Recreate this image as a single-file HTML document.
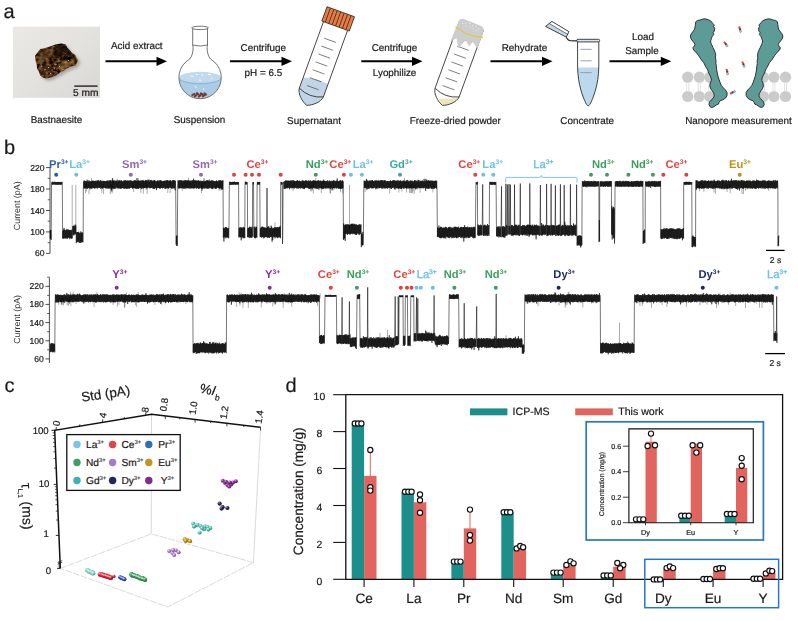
<!DOCTYPE html>
<html><head><meta charset="utf-8"><title>Figure</title>
<style>html,body{margin:0;padding:0;background:#fff}svg{display:block}text{text-rendering:geometricPrecision;font-family:"Liberation Sans",sans-serif;fill:#1d191a;stroke:#1d191a;stroke-width:.2px}</style>
</head><body>
<svg width="798" height="621" viewBox="0 0 798 621">
<defs>
<linearGradient id="gphoto" x1="0" y1="0" x2="1" y2="1"><stop offset="0" stop-color="#ebe9e6"/><stop offset=".5" stop-color="#e4e2df"/><stop offset="1" stop-color="#d9d7d4"/></linearGradient>
<linearGradient id="grock" x1="0" y1="0" x2="1" y2="1"><stop offset="0" stop-color="#6a4a24"/><stop offset=".5" stop-color="#3b2614"/><stop offset="1" stop-color="#5b4020"/></linearGradient>
<filter id="blur1" x="-20%" y="-20%" width="140%" height="140%"><feGaussianBlur stdDeviation="1.6"/></filter>
<filter id="blur05" x="-20%" y="-20%" width="140%" height="140%"><feGaussianBlur stdDeviation=".8"/></filter>
<filter id="rocktex" color-interpolation-filters="sRGB" x="-5%" y="-5%" width="110%" height="110%"><feTurbulence type="fractalNoise" baseFrequency=".28" numOctaves="3" seed="11" result="n"/><feColorMatrix in="n" type="matrix" values="1.25 0 0 0 -.36  .92 0 0 0 -.30  .52 0 0 0 -.19  0 0 0 0 1" result="c"/><feComposite in="c" in2="SourceGraphic" operator="in"/><feGaussianBlur stdDeviation=".45"/></filter>
</defs>
<rect width="798" height="621" fill="#fff"/>
<g style="will-change:opacity;isolation:isolate" opacity=".999">
<g id="pa">
<text x="3.6" y="18.2" font-size="20">a</text>
<rect x="13" y="26.6" width="87" height="71.2" fill="url(#gphoto)"/>
<path d="M42,53 L52,48.5 L62,46 L68,47 L71,52 L77.5,57.5 L80.5,62 L78,67.5 L69,71 L62,75 L53,80 L47.5,81 L42,77.5 Z" fill="#6f6c68" opacity=".5" filter="url(#blur1)"/>
<path d="M35.1,55.8 L37.5,52.5 L40.2,49 L45,48 L51.5,45.9 L56,44.2 L61.5,43.4 L65.9,44.6 L67,47.5 L69.1,49.6 L72,53 L75.4,55.3 L77.9,60.3 L75.4,65.4 L71,66.5 L66.6,68.5 L63.5,71 L60.3,72.3 L56,75.5 L51.5,77.3 L46.4,78.6 L42.8,77.5 L40.2,75.4 L38.8,71.5 L37,68.5 L36.8,65 L35.8,62.2 Z" fill="#3a2413" filter="url(#rocktex)"/>
<clipPath id="crock"><path d="M35.1,55.8 L37.5,52.5 L40.2,49 L45,48 L51.5,45.9 L56,44.2 L61.5,43.4 L65.9,44.6 L67,47.5 L69.1,49.6 L72,53 L75.4,55.3 L77.9,60.3 L75.4,65.4 L71,66.5 L66.6,68.5 L63.5,71 L60.3,72.3 L56,75.5 L51.5,77.3 L46.4,78.6 L42.8,77.5 L40.2,75.4 L38.8,71.5 L37,68.5 L36.8,65 L35.8,62.2 Z"/></clipPath>
<g clip-path="url(#crock)" filter="url(#blur05)">
<path d="M58,45 L66,44.5 L69.5,50 L75,56 L72,58 L65,55.5 L60,57 L56,60 L54,54 Z" fill="#1d1109" opacity=".8"/>
<path d="M36,57 L41,51 L50,48 L55,48 L53,55 L48,60 L42,64 L37,63 Z" fill="#6e4c24" opacity=".55"/>
<path d="M56,67 L64,63 L72,60.5 L76,62 L70,66 L61,70.5 Z" fill="#8c6b34" opacity=".7"/>
<path d="M40,66 L47,64 L52,67 L50,72 L45,76 L40,73 Z" fill="#4c3218" opacity=".7"/>
<path d="M49,52 l1.5,9 M53,51 l1.5,10 M57,50 l1.2,9 M61,49.5 l1,8" stroke="#140b06" stroke-width="1" opacity=".7"/>
</g>
<circle cx="45" cy="69.5" r=".55" fill="#e9dfca" opacity=".85"/>
<circle cx="48.5" cy="67.5" r=".55" fill="#e9dfca" opacity=".85"/>
<circle cx="52" cy="70" r=".55" fill="#e9dfca" opacity=".85"/>
<circle cx="47" cy="73" r=".55" fill="#e9dfca" opacity=".85"/>
<circle cx="56" cy="64.5" r=".55" fill="#e9dfca" opacity=".85"/>
<circle cx="62" cy="63" r=".55" fill="#e9dfca" opacity=".85"/>
<circle cx="66" cy="61.5" r=".55" fill="#e9dfca" opacity=".85"/>
<circle cx="68.5" cy="60.5" r=".55" fill="#e9dfca" opacity=".85"/>
<circle cx="43" cy="61" r=".55" fill="#e9dfca" opacity=".85"/>
<circle cx="50.5" cy="73.5" r=".55" fill="#e9dfca" opacity=".85"/>
<circle cx="59.5" cy="66.5" r=".55" fill="#e9dfca" opacity=".85"/>
<circle cx="41.5" cy="66" r=".55" fill="#e9dfca" opacity=".85"/>
<circle cx="54.5" cy="68" r=".55" fill="#e9dfca" opacity=".85"/>
<path d="M63,52.6 l3.2,1.2" stroke="#b8301f" stroke-width=".8" opacity=".9"/>
<rect x="74.3" y="85.4" width="23.3" height="1.4" fill="#222"/>
<text x="85.8" y="96.4" font-size="10" text-anchor="middle" textLength="25.4" lengthAdjust="spacingAndGlyphs">5 mm</text>
<text x="56.5" y="122.6" font-size="9.9" text-anchor="middle">Bastnaesite</text>
<path d="M105.5,61.3 H159" stroke="#000" stroke-width="2.1"/><path d="M167,61.3 l-10.5,-4.6 v9.2 z" fill="#000"/>
<path d="M230,61.3 H284" stroke="#000" stroke-width="2.1"/><path d="M292,61.3 l-10.5,-4.6 v9.2 z" fill="#000"/>
<path d="M361.3,61.3 H414.5" stroke="#000" stroke-width="2.1"/><path d="M422.5,61.3 l-10.5,-4.6 v9.2 z" fill="#000"/>
<path d="M490.5,61.3 H544.5" stroke="#000" stroke-width="2.1"/><path d="M552.5,61.3 l-10.5,-4.6 v9.2 z" fill="#000"/>
<path d="M609.5,61.3 H663.3" stroke="#000" stroke-width="2.1"/><path d="M671.3,61.3 l-10.5,-4.6 v9.2 z" fill="#000"/>
<text x="136.8" y="49.2" font-size="9.9" text-anchor="middle">Acid extract</text>
<text x="263.3" y="50.8" font-size="9.9" text-anchor="middle">Centrifuge</text>
<text x="263.4" y="76.4" font-size="9.9" text-anchor="middle">pH = 6.5</text>
<text x="394.5" y="50.8" font-size="9.9" text-anchor="middle">Centrifuge</text>
<text x="394.6" y="76.4" font-size="9.9" text-anchor="middle">Lyophilize</text>
<text x="524.5" y="50.8" font-size="9.9" text-anchor="middle">Rehydrate</text>
<text x="642.9" y="40" font-size="9.9" text-anchor="middle">Load</text>
<text x="642" y="53.8" font-size="9.9" text-anchor="middle">Sample</text>
<text x="199.5" y="122.6" font-size="9.9" text-anchor="middle">Suspension</text>
<text x="314" y="124.3" font-size="9.9" text-anchor="middle">Supernatant</text>
<text x="455.3" y="124.2" font-size="9.9" text-anchor="middle">Freeze-dried powder</text>
<text x="587.2" y="124.2" font-size="9.9" text-anchor="middle">Concentrate</text>
<text x="738.4" y="124" font-size="9.9" text-anchor="middle">Nanopore measurement</text>
<g stroke="#3a3a3a" stroke-width=".7" fill="none">
<clipPath id="cflask"><circle cx="200.1" cy="77.6" r="20.9"/></clipPath>
<g clip-path="url(#cflask)" stroke="none"><rect x="178" y="77.5" width="44" height="22" fill="#abcce6"/><ellipse cx="200.1" cy="77.7" rx="21" ry="5.9" fill="#bfd9ed"/><path d="M179.1,77.7 A21,5.9 0 0 0 221.1,77.7" fill="none" stroke="#6f9cc0" stroke-width=".6"/></g>
<path d="M190.5,76 l3,0.3" stroke="#fff" stroke-width="1"/>
<path d="M196,74.3 l2,0.2" stroke="#fff" stroke-width="1"/>
<path d="M201.5,74.6 l1.6,0.8" stroke="#fff" stroke-width="1"/>
<path d="M208,74.4 l3,0.4" stroke="#fff" stroke-width="1"/>
<path d="M199,80 l2.2,0.3" stroke="#fff" stroke-width="1"/>
<path d="M211,78.5 l1.2,-0.8" stroke="#fff" stroke-width="1"/>
<path d="M194.5,86 l2,1.6" stroke="#fff" stroke-width="1"/>
<path d="M203,88.5 l1.5,1.2" stroke="#fff" stroke-width="1"/>
<circle cx="192.5" cy="95" r="1.05" fill="#8a3a28" stroke="#5a2015" stroke-width=".25"/>
<circle cx="194.2" cy="94" r="1.05" fill="#8a3a28" stroke="#5a2015" stroke-width=".25"/>
<circle cx="196" cy="95.3" r="1.05" fill="#8a3a28" stroke="#5a2015" stroke-width=".25"/>
<circle cx="198" cy="94.2" r="1.05" fill="#8a3a28" stroke="#5a2015" stroke-width=".25"/>
<circle cx="200" cy="95.4" r="1.05" fill="#8a3a28" stroke="#5a2015" stroke-width=".25"/>
<circle cx="202" cy="94.4" r="1.05" fill="#8a3a28" stroke="#5a2015" stroke-width=".25"/>
<circle cx="204" cy="95.2" r="1.05" fill="#8a3a28" stroke="#5a2015" stroke-width=".25"/>
<circle cx="205.8" cy="94.6" r="1.05" fill="#8a3a28" stroke="#5a2015" stroke-width=".25"/>
<circle cx="195" cy="96.2" r="1.05" fill="#8a3a28" stroke="#5a2015" stroke-width=".25"/>
<circle cx="199" cy="96.5" r="1.05" fill="#8a3a28" stroke="#5a2015" stroke-width=".25"/>
<circle cx="203" cy="96.2" r="1.05" fill="#8a3a28" stroke="#5a2015" stroke-width=".25"/>
<circle cx="197" cy="93.4" r="1.05" fill="#8a3a28" stroke="#5a2015" stroke-width=".25"/>
<circle cx="201" cy="93.5" r="1.05" fill="#8a3a28" stroke="#5a2015" stroke-width=".25"/>
<circle cx="204.6" cy="93.6" r="1.05" fill="#8a3a28" stroke="#5a2015" stroke-width=".25"/>
<path d="M192.7,28.5 V45.3 L193.1,47.5 C193.1,52 192.2,56.3 189.5,59.2 A21.2,21.2 0 1 0 210.7,59.2 C208,56.3 207.1,52 207.1,47.5 L207.5,45.3 V28.5"/>
<ellipse cx="200.1" cy="27.9" rx="8.5" ry="1.7" fill="#fff"/>
<path d="M192.7,45 Q200.1,47.2 207.5,45" />
</g>
<g transform="translate(340.75,11.75) rotate(20)" stroke="#222" stroke-width=".75" fill="none" stroke-linejoin="round"><path d="M-12.8,74.6 Q-2,70.5 12.8,72.2 V86 L12.8,86 C12.200000000000001,92 5.5,97.6 0,99.6 C-5.5,97.6 -12.200000000000001,92 -12.8,86 Z" fill="#c2d5e7" stroke="none"/><path d="M-12.8,15 V86 C-12.200000000000001,92 -5.5,97.6 0,99.6 C5.5,97.6 12.200000000000001,92 12.8,86 V15"/><path d="M-12.8,86 Q0,92 12.8,86"/><path d="M-6.5,30.5 H5.9" stroke="#4a4a4a" stroke-width=".65"/><path d="M-6.5,38.9 H5.9" stroke="#4a4a4a" stroke-width=".65"/><path d="M-6.5,47.3 H5.9" stroke="#4a4a4a" stroke-width=".65"/><path d="M-6.5,55.7 H5.9" stroke="#4a4a4a" stroke-width=".65"/><path d="M-6.5,64.1 H5.9" stroke="#4a4a4a" stroke-width=".65"/><path d="M-6.5,72.5 H5.9" stroke="#4a4a4a" stroke-width=".65"/><path d="M-6.5,80.9 H5.9" stroke="#4a4a4a" stroke-width=".65"/><rect x="-14.6" y="0" width="29.2" height="15.2" fill="#e27d47" stroke="#222"/><path d="M-10.95,0.3 V14.9" stroke="#4a2210" stroke-width=".75"/><path d="M-7.30,0.3 V14.9" stroke="#4a2210" stroke-width=".75"/><path d="M-3.65,0.3 V14.9" stroke="#4a2210" stroke-width=".75"/><path d="M0.00,0.3 V14.9" stroke="#4a2210" stroke-width=".75"/><path d="M3.65,0.3 V14.9" stroke="#4a2210" stroke-width=".75"/><path d="M7.30,0.3 V14.9" stroke="#4a2210" stroke-width=".75"/><path d="M10.95,0.3 V14.9" stroke="#4a2210" stroke-width=".75"/></g>
<g transform="translate(476.5,11.8) rotate(20)" stroke="#222" stroke-width=".75" fill="none" stroke-linejoin="round"><path d="M-5.6,94.6 L12.4,87.5 C11.8,92 5.5,97.6 0,99.6 C-2.5,98.7 -4.3,96.8 -5.6,94.6 Z" fill="#ebe7bb" stroke="none"/><path d="M-12.8,15 V86 C-12.200000000000001,92 -5.5,97.6 0,99.6 C5.5,97.6 12.200000000000001,92 12.8,86 V15"/><path d="M-12.8,86 Q0,92 12.8,86"/><path d="M-6.5,30.5 H5.9" stroke="#4a4a4a" stroke-width=".65"/><path d="M-6.5,38.9 H5.9" stroke="#4a4a4a" stroke-width=".65"/><path d="M-6.5,47.3 H5.9" stroke="#4a4a4a" stroke-width=".65"/><path d="M-6.5,55.7 H5.9" stroke="#4a4a4a" stroke-width=".65"/><path d="M-6.5,64.1 H5.9" stroke="#4a4a4a" stroke-width=".65"/><path d="M-6.5,72.5 H5.9" stroke="#4a4a4a" stroke-width=".65"/><path d="M-6.5,80.9 H5.9" stroke="#4a4a4a" stroke-width=".65"/><path d="M-13.6,14.5 Q-13.4,11.2 -8,11 L8,11.6 Q13,12 13.2,15.5 L13.6,23.5 L13.2,34 L6.8,29.7 L5,35.1 L-0.5,30.4 L-4.5,40.5 L-9.7,31.8 L-14.4,37.4 Z" fill="#cdcdcd" stroke="none"/><circle cx="-6" cy="14.2" r=".55" fill="#f2f2f2" stroke="none"/><circle cx="-2.5" cy="13.3" r=".55" fill="#f2f2f2" stroke="none"/><circle cx="1" cy="14.4" r=".55" fill="#f2f2f2" stroke="none"/><circle cx="4.5" cy="13.6" r=".55" fill="#f2f2f2" stroke="none"/><circle cx="8" cy="15" r=".55" fill="#f2f2f2" stroke="none"/><circle cx="-9" cy="15.6" r=".55" fill="#f2f2f2" stroke="none"/><circle cx="-1" cy="16.6" r=".55" fill="#f2f2f2" stroke="none"/><circle cx="3" cy="17.2" r=".55" fill="#f2f2f2" stroke="none"/><circle cx="6.5" cy="17.6" r=".55" fill="#f2f2f2" stroke="none"/><circle cx="-5" cy="17" r=".55" fill="#f2f2f2" stroke="none"/><path d="M-14.8,21.2 Q0.9,26.8 14.8,21.6" stroke="#e6c92a" stroke-width="1.1"/></g>
<g stroke="#222" stroke-width=".85" fill="none" stroke-linejoin="round">
<path d="M577.6,67.5 C577.9,85 583,96.5 584.6,100.5 C586,104 587.2,105.7 588.2,105.7 C589.2,105.7 590.4,104 591.8,100.5 C593.4,96.5 598.5,85 598.8,67.5 Z" fill="#bcd8ed" stroke="none"/>
<path d="M577.6,41.5 V67 C577.9,85 583,96.5 584.6,100.5 C586,104 587.2,105.7 588.2,105.7 C589.2,105.7 590.4,104 591.8,100.5 C593.4,96.5 598.5,85 598.8,67 V41.5"/>
<rect x="576.8" y="39.3" width="22.8" height="2.6" rx="1.1" fill="#dbe7f2"/>
<path d="M580.3,49.3 H591.7" stroke="#8c98a4" stroke-width=".9"/>
<path d="M580.3,60.8 H591.7" stroke="#8c98a4" stroke-width=".9"/>
<path d="M580.3,72.6 H591.7" stroke="#8c98a4" stroke-width=".9"/>
<path d="M545.5,26.4 L551.9,21.5 L568.8,31.7 L566.3,37.1 Z" fill="#c3d6ea"/>
<path d="M549.3,23.5 L551.9,21.5 L568.8,31.7 L567.4,34.2 Z" fill="#fff" stroke-width=".6"/>
<path d="M566.3,37.1 Q567.5,40.4 570,40.6 L576.8,40.9" stroke-width="1.1"/>
</g>
<g fill="#cbcbcb">
<circle cx="687.7" cy="77.2" r="5.6"/><circle cx="687.7" cy="96.5" r="5.6"/>
<path d="M686.7,83 V92 M688.7,83 V92" stroke="#d9d9d9" stroke-width=".8"/>
<circle cx="699.3" cy="77.2" r="5.6"/><circle cx="699.3" cy="96.5" r="5.6"/>
<path d="M698.3,83 V92 M700.3,83 V92" stroke="#d9d9d9" stroke-width=".8"/>
<circle cx="709.8" cy="77.2" r="5.6"/><circle cx="709.8" cy="96.5" r="5.6"/>
<path d="M708.8,83 V92 M710.8,83 V92" stroke="#d9d9d9" stroke-width=".8"/>
<circle cx="785.5" cy="77.2" r="5.6"/><circle cx="785.5" cy="96.5" r="5.6"/>
<path d="M784.5,83 V92 M786.5,83 V92" stroke="#d9d9d9" stroke-width=".8"/>
<circle cx="773.9" cy="77.2" r="5.6"/><circle cx="773.9" cy="96.5" r="5.6"/>
<path d="M772.9,83 V92 M774.9,83 V92" stroke="#d9d9d9" stroke-width=".8"/>
<circle cx="763.4" cy="77.2" r="5.6"/><circle cx="763.4" cy="96.5" r="5.6"/>
<path d="M762.4,83 V92 M764.4,83 V92" stroke="#d9d9d9" stroke-width=".8"/>
</g>
<path d="M704.9,18.8 L708.2,19.7 L710.6,20.8 L712.2,22.9 L714.3,24.9 L713.5,26.8 L714.8,28.1 L714.4,31.0 L713.1,32.6 L713.8,34.5 L712.2,36.5 L711.5,38.5 L710.6,41.0 L711.1,43.4 L712.2,45.8 L713.0,47.7 L714.1,49.8 L715.1,52.2 L715.7,55.1 L715.4,57.9 L716.0,60.3 L715.9,63.5 L716.5,66.7 L716.7,69.9 L717.5,73.9 L718.0,76.4 L719.1,79.6 L720.2,82.8 L721.5,85.7 L723.4,87.9 L725.5,90.0 L727.1,92.5 L727.0,95.7 L725.5,98.1 L723.1,99.7 L720.2,100.8 L719.1,102.1 L718.6,104.0 L716.2,105.0 L714.1,106.6 L711.9,107.6 L709.9,106.6 L709.0,104.5 L709.4,102.1 L711.1,100.2 L713.0,98.4 L714.3,96.0 L713.8,93.3 L712.2,90.8 L710.6,88.4 L709.8,86.0 L710.1,83.1 L711.4,80.4 L711.1,78.0 L709.8,75.1 L708.6,72.8 L707.7,69.9 L706.2,67.5 L704.9,65.1 L703.8,62.7 L701.7,60.3 L700.1,57.9 L698.5,55.4 L696.9,53.5 L695.3,51.4 L693.5,50.0 L692.9,47.7 L694.2,46.1 L695.0,44.7 L694.2,42.9 L692.6,41.0 L690.9,38.5 L690.3,36.1 L691.3,33.7 L692.9,31.6 L694.5,29.4 L695.0,27.3 L695.4,24.6 L695.8,21.7 L697.7,20.4 L700.1,20.0 L702.5,19.1 Z" fill="#5d9b97" stroke="#222" stroke-width=".9" stroke-linejoin="round"/>
<path d="M768.3,18.8 L765.0,19.7 L762.6,20.8 L761.0,22.9 L758.9,24.9 L759.7,26.8 L758.4,28.1 L758.8,31.0 L760.1,32.6 L759.4,34.5 L761.0,36.5 L761.7,38.5 L762.6,41.0 L762.1,43.4 L761.0,45.8 L760.2,47.7 L759.1,49.8 L758.1,52.2 L757.5,55.1 L757.8,57.9 L757.2,60.3 L757.3,63.5 L756.7,66.7 L756.5,69.9 L755.7,73.9 L755.2,76.4 L754.1,79.6 L753.0,82.8 L751.7,85.7 L749.8,87.9 L747.7,90.0 L746.1,92.5 L746.2,95.7 L747.7,98.1 L750.1,99.7 L753.0,100.8 L754.1,102.1 L754.6,104.0 L757.0,105.0 L759.1,106.6 L761.3,107.6 L763.3,106.6 L764.2,104.5 L763.8,102.1 L762.1,100.2 L760.2,98.4 L758.9,96.0 L759.4,93.3 L761.0,90.8 L762.6,88.4 L763.4,86.0 L763.1,83.1 L761.8,80.4 L762.1,78.0 L763.4,75.1 L764.6,72.8 L765.5,69.9 L767.0,67.5 L768.3,65.1 L769.4,62.7 L771.5,60.3 L773.1,57.9 L774.7,55.4 L776.3,53.5 L777.9,51.4 L779.7,50.0 L780.3,47.7 L779.0,46.1 L778.2,44.7 L779.0,42.9 L780.6,41.0 L782.3,38.5 L782.9,36.1 L781.9,33.7 L780.3,31.6 L778.7,29.4 L778.2,27.3 L777.8,24.6 L777.4,21.7 L775.5,20.4 L773.1,20.0 L770.7,19.1 Z" fill="#5d9b97" stroke="#222" stroke-width=".9" stroke-linejoin="round"/>
<g transform="translate(740,29.3) rotate(80)"><circle cx="-1.9" cy=".3" r="1.15" fill="#e6453f"/><circle cx="0" cy="0" r="1.2" fill="#4a4a4a"/><circle cx="2.1" cy="-.2" r="1.05" fill="#d8d8d8" stroke="#444" stroke-width=".4"/></g>
<g transform="translate(725.8,44) rotate(60)"><circle cx="-1.9" cy=".3" r="1.15" fill="#e6453f"/><circle cx="0" cy="0" r="1.2" fill="#4a4a4a"/><circle cx="2.1" cy="-.2" r="1.05" fill="#d8d8d8" stroke="#444" stroke-width=".4"/></g>
<g transform="translate(743.4,64.3) rotate(75)"><circle cx="-1.9" cy=".3" r="1.15" fill="#e6453f"/><circle cx="0" cy="0" r="1.2" fill="#4a4a4a"/><circle cx="2.1" cy="-.2" r="1.05" fill="#d8d8d8" stroke="#444" stroke-width=".4"/></g>
<g transform="translate(727.2,71.7) rotate(85)"><circle cx="-1.9" cy=".3" r="1.15" fill="#e6453f"/><circle cx="0" cy="0" r="1.2" fill="#4a4a4a"/><circle cx="2.1" cy="-.2" r="1.05" fill="#d8d8d8" stroke="#444" stroke-width=".4"/></g>
<g transform="translate(732.6,92.4) rotate(-20)"><circle cx="-1.9" cy=".3" r="1.15" fill="#e6453f"/><circle cx="0" cy="0" r="1.2" fill="#4a4a4a"/><circle cx="2.1" cy="-.2" r="1.05" fill="#d8d8d8" stroke="#444" stroke-width=".4"/></g>
</g>
<g id="pb">
<text x="4" y="154" font-size="20">b</text>
<path d="M50,167.6 V253.4" stroke="#222" stroke-width=".8"/><path d="M50,167.6 h-4" stroke="#222" stroke-width=".8"/><text x="44.5" y="170.6" font-size="8.6" text-anchor="end">220</text><path d="M50,178.3 h-2.3" stroke="#222" stroke-width=".7"/><path d="M50,189.0 h-4" stroke="#222" stroke-width=".8"/><text x="44.5" y="192.0" font-size="8.6" text-anchor="end">180</text><path d="M50,199.8 h-2.3" stroke="#222" stroke-width=".7"/><path d="M50,210.5 h-4" stroke="#222" stroke-width=".8"/><text x="44.5" y="213.5" font-size="8.6" text-anchor="end">140</text><path d="M50,221.2 h-2.3" stroke="#222" stroke-width=".7"/><path d="M50,231.9 h-4" stroke="#222" stroke-width=".8"/><text x="44.5" y="234.9" font-size="8.6" text-anchor="end">100</text><path d="M50,242.7 h-2.3" stroke="#222" stroke-width=".7"/><path d="M50,253.4 h-4" stroke="#222" stroke-width=".8"/><text x="44.5" y="256.4" font-size="8.6" text-anchor="end">60</text><text transform="translate(20,205.8) rotate(-90)" font-size="8.9" text-anchor="middle" style="fill:#333;stroke:none">Current (pA)</text>
<path d="M50.0,238.2 50.3,230.0 50.6,238.8 50.9,230.2 51.2,240.0 51.5,184.5 51.8,182.3 52.1,184.7 52.4,181.8 52.7,184.7 53.0,181.8 53.3,184.4 53.6,182.3 53.9,184.5 54.2,182.2 54.5,184.4 54.8,181.6 55.1,184.6 55.4,182.2 55.7,184.7 56.0,182.1 56.3,184.7 56.6,182.1 56.9,184.6 57.2,182.0 57.5,184.7 57.8,181.8 58.1,184.7 58.4,182.2 58.7,184.7 59.0,182.1 59.3,184.6 59.6,182.0 59.9,184.6 60.2,181.9 60.5,184.6 60.8,182.2 61.1,184.8 61.4,182.0 61.7,184.4 62.0,181.8 62.3,184.5 62.6,238.4 62.9,230.7 63.2,238.8 63.5,229.5 63.8,238.3 64.1,227.9 64.4,238.4 64.7,229.9 65.0,238.1 65.3,229.8 65.6,238.5 65.9,230.7 66.2,237.8 66.5,229.3 66.8,238.8 67.1,230.3 67.4,238.6 67.7,229.1 68.0,237.9 68.3,229.7 68.6,237.6 68.9,229.9 69.2,237.9 69.5,230.0 69.8,239.2 70.1,230.0 70.4,237.7 70.7,229.9 71.0,238.5 71.3,230.4 71.6,238.6 71.9,229.6 72.2,238.4 72.5,235.3 72.8,226.1 73.1,234.8 73.4,226.0 73.7,235.5 74.0,225.4 74.3,234.2 74.6,226.4 74.9,234.9 75.2,224.5 75.5,233.8 75.8,225.4 76.1,234.0 76.3,243.2 76.6,232.3 76.9,242.0 77.2,232.0 77.5,241.7 77.8,232.0 78.1,242.3 78.4,231.7 78.7,241.4 79.0,232.7 79.3,242.8 79.6,232.9 79.9,242.9 80.2,232.7 80.5,242.6 80.8,231.4 81.1,242.7 81.4,233.0 81.7,241.7 82.0,232.2 82.3,242.0 82.6,232.8 82.9,242.5 83.2,231.6 83.3,188.3 83.6,181.5 83.9,188.7 84.2,180.3 84.5,188.4 84.8,181.0 85.1,187.8 85.4,181.1 85.7,188.3 86.0,180.9 86.3,188.6 86.6,181.5 86.9,187.6 87.2,179.7 87.5,188.9 87.8,181.3 88.1,187.8 88.4,181.4 88.7,188.0 89.0,180.2 89.3,187.8 89.6,181.4 89.9,189.3 90.2,181.1 90.5,188.1 90.8,181.4 91.1,188.9 91.4,181.4 91.7,188.4 92.0,180.7 92.3,188.4 92.6,180.7 92.9,187.8 93.2,181.1 93.5,188.1 93.8,180.6 94.1,188.0 94.4,181.0 94.7,188.7 95.0,181.1 95.3,188.3 95.6,180.7 95.9,187.5 96.2,181.4 96.5,187.6 96.8,180.6 97.1,188.6 97.4,180.3 97.7,188.2 98.0,181.4 98.3,187.7 98.6,180.1 98.9,187.9 99.2,180.8 99.5,187.9 99.8,181.3 100.1,187.5 100.4,180.2 100.7,188.8 101.0,180.5 101.3,187.7 101.6,181.3 101.9,188.4 102.2,181.4 102.5,188.6 102.8,180.7 103.1,188.1 103.4,181.0 103.7,187.5 104.0,180.9 104.3,187.6 104.6,181.3 104.9,187.9 105.2,180.9 105.5,188.4 105.8,181.5 106.1,188.2 106.4,180.9 106.7,188.5 107.0,180.8 107.3,187.8 107.6,180.7 107.9,188.8 108.2,180.4 108.5,188.2 108.8,181.3 109.1,188.7 109.4,180.5 109.7,188.0 110.0,180.5 110.3,188.7 110.6,180.2 110.9,187.7 111.2,181.2 111.5,190.2 111.8,180.5 112.1,188.2 112.4,178.1 112.7,188.6 113.0,181.1 113.3,188.8 113.6,180.4 113.9,188.4 114.2,180.9 114.5,188.9 114.8,180.4 115.1,187.7 115.4,181.3 115.7,188.8 116.0,180.7 116.3,187.7 116.6,181.2 116.9,187.5 117.2,179.5 117.5,188.3 117.8,181.2 118.1,188.3 118.4,180.7 118.7,188.5 119.0,180.4 119.3,188.3 119.6,180.3 119.9,188.3 120.2,181.1 120.5,188.6 120.8,180.5 121.1,188.9 121.4,180.1 121.7,188.2 122.0,181.1 122.3,188.0 122.6,181.5 122.9,188.1 123.2,180.9 123.5,188.5 123.8,180.6 124.1,188.3 124.4,180.7 124.7,188.7 125.0,180.1 125.3,188.7 125.6,180.5 125.9,187.9 126.2,180.6 126.5,188.8 126.8,180.9 127.1,188.7 127.4,180.5 127.7,188.5 128.0,180.5 128.3,188.4 128.6,180.9 128.9,188.4 129.2,180.4 129.5,188.6 129.8,180.7 130.1,187.9 130.4,180.3 130.7,187.7 131.0,180.8 131.3,187.6 131.6,180.5 131.9,188.0 132.2,181.5 132.5,188.8 132.8,180.9 133.1,188.3 133.4,181.2 133.7,187.9 134.0,180.3 134.3,188.0 134.6,180.5 134.9,188.4 135.2,180.4 135.5,188.4 135.8,180.7 136.1,188.6 136.4,181.0 136.7,188.8 137.0,178.1 137.3,188.4 137.6,180.9 137.9,188.6 138.2,180.6 138.5,188.9 138.8,180.2 139.1,188.3 139.4,180.8 139.7,187.7 140.0,181.0 140.3,187.8 140.6,180.5 140.9,187.6 141.2,180.8 141.5,188.9 141.8,180.3 142.1,187.5 142.4,180.4 142.7,188.4 143.0,180.3 143.3,188.5 143.6,180.9 143.9,188.0 144.2,181.2 144.5,188.1 144.8,181.2 145.1,188.0 145.4,180.2 145.7,187.6 146.0,180.3 146.3,188.0 146.6,180.2 146.9,188.7 147.2,181.3 147.5,187.5 147.8,179.7 148.1,187.7 148.4,180.3 148.7,187.5 149.0,179.6 149.3,187.7 149.6,181.5 149.9,188.5 150.2,180.3 150.5,188.0 150.8,180.1 151.1,187.8 151.4,180.2 151.7,188.0 152.0,180.7 152.3,187.6 152.6,180.9 152.9,188.7 153.2,180.6 153.5,188.5 153.8,180.4 154.1,188.9 154.4,180.2 154.7,188.9 155.0,180.4 155.3,188.0 155.6,181.5 155.9,188.1 156.2,181.0 156.5,190.1 156.8,181.4 157.1,188.3 157.4,180.5 157.7,187.7 158.0,180.4 158.3,187.9 158.6,181.2 158.9,188.0 159.2,180.4 159.5,188.3 159.8,180.6 160.1,188.9 160.4,180.3 160.7,188.2 161.0,180.3 161.3,187.7 161.6,180.8 161.9,188.0 162.2,181.4 162.5,188.4 162.8,181.1 163.1,188.0 163.4,180.8 163.7,187.7 164.0,181.0 164.3,187.6 164.6,180.8 164.9,188.8 165.2,180.4 165.5,188.8 165.8,181.3 166.1,188.3 166.4,180.4 166.7,188.5 167.0,180.2 167.3,188.1 167.6,180.1 167.9,187.7 168.2,180.5 168.5,188.8 168.8,180.9 169.1,187.6 169.4,180.7 169.7,187.6 170.0,180.6 170.3,187.6 170.6,180.3 170.9,187.7 171.2,181.5 171.5,188.7 171.8,181.1 172.1,188.3 172.4,180.3 172.7,188.4 173.0,180.2 173.3,188.5 173.6,180.1 173.9,187.8 174.2,180.4 174.5,188.2 174.8,180.3 175.1,190.3 175.4,180.9 175.7,187.9 176.1,244.6 176.4,235.9 176.7,246.0 177.0,235.4 177.3,245.7 177.7,188.3 178.0,180.2 178.3,188.4 178.6,181.1 178.9,188.3 179.2,180.1 179.5,188.4 179.8,180.5 180.1,188.0 180.4,180.2 180.7,188.4 181.0,180.2 181.3,188.0 181.6,180.4 181.9,188.5 182.2,181.0 182.5,187.7 182.8,180.6 183.1,187.9 183.4,180.7 183.7,188.9 184.0,180.8 184.3,188.5 184.6,180.4 184.9,188.5 185.2,180.1 185.5,187.6 185.8,180.1 186.1,187.5 186.4,180.8 186.7,188.1 187.0,180.3 187.3,188.4 187.6,180.7 187.9,188.0 188.2,180.1 188.5,188.3 188.8,180.6 189.1,187.9 189.4,180.8 189.7,188.7 190.0,180.6 190.3,188.0 190.6,181.1 190.9,188.8 191.2,180.3 191.5,188.0 191.8,181.2 192.1,188.1 192.4,180.1 192.7,188.2 193.0,180.7 193.3,188.6 193.6,178.6 193.9,188.4 194.2,180.1 194.5,188.3 194.8,180.4 195.1,187.8 195.4,180.5 195.7,187.7 196.0,180.7 196.3,188.8 196.6,180.7 196.9,188.1 197.2,180.5 197.5,187.8 197.8,180.8 198.1,188.3 198.4,180.3 198.7,189.0 199.0,180.5 199.3,188.6 199.6,181.1 199.9,188.0 200.2,181.3 200.5,187.6 200.8,180.5 201.1,188.5 201.4,181.2 201.7,188.7 202.0,181.0 202.3,188.4 202.6,181.2 202.9,188.9 203.2,180.7 203.5,187.5 203.8,181.3 204.1,188.6 204.4,181.5 204.7,188.5 205.0,181.1 205.3,187.8 205.6,180.9 205.9,188.4 206.2,180.6 206.5,188.2 206.8,180.2 207.1,188.6 207.4,180.3 207.7,188.7 208.0,180.6 208.3,188.2 208.6,180.8 208.9,188.8 209.2,179.6 209.5,187.7 209.8,180.9 210.1,187.8 210.4,180.8 210.7,188.1 211.0,181.0 211.3,188.3 211.6,180.3 211.9,189.2 212.2,180.5 212.5,188.8 212.8,180.3 213.1,188.7 213.4,181.0 213.7,187.7 214.0,181.0 214.3,187.7 214.6,181.1 214.9,188.6 215.2,181.5 215.5,188.8 215.8,181.0 216.1,188.7 216.4,180.4 216.7,188.1 217.0,180.9 217.3,187.6 217.6,181.5 217.9,187.7 218.2,181.3 218.5,188.0 218.8,180.1 219.1,188.4 219.4,180.4 219.7,188.6 220.0,180.7 220.3,187.7 220.6,180.2 220.9,188.7 221.2,180.6 221.5,189.6 221.8,181.0 222.1,188.6 222.4,180.5 222.7,189.7 223.0,180.3 223.3,237.7 223.6,227.8 223.9,241.5 224.2,227.8 224.5,236.8 224.8,228.3 225.1,238.3 225.4,227.0 225.7,237.4 226.0,227.0 226.3,236.9 226.6,227.5 226.9,238.2 227.2,228.2 227.5,236.9 227.8,228.1 228.1,237.8 228.4,227.9 228.7,238.3 229.0,225.3 229.3,184.6 229.6,181.8 229.9,185.1 230.2,181.8 230.5,184.6 230.8,182.2 231.1,184.8 231.4,182.2 231.7,184.6 232.0,181.9 232.3,184.7 232.6,181.9 232.9,184.6 233.2,181.9 233.5,184.6 233.8,182.0 234.1,184.5 234.4,181.5 234.7,184.5 235.0,182.1 235.3,184.8 235.6,182.1 235.9,184.5 236.2,182.1 236.5,184.5 236.8,182.2 237.1,184.5 237.4,182.0 237.7,184.7 238.0,181.9 238.3,184.4 238.6,182.1 238.8,237.4 239.1,228.2 239.4,236.9 239.7,227.5 240.0,237.3 240.3,227.4 240.6,237.2 240.9,227.3 241.2,240.4 241.5,227.8 241.8,237.6 242.1,227.5 242.4,237.0 242.7,227.9 243.0,238.4 243.3,226.9 243.6,237.8 243.9,227.5 244.2,238.1 244.5,227.6 244.8,238.0 245.0,184.6 245.3,181.6 245.6,184.5 245.9,181.8 246.2,184.4 246.5,182.0 246.8,184.4 247.1,182.2 247.4,184.7 247.6,237.2 247.9,228.2 248.2,237.3 248.5,228.1 248.8,237.2 249.1,227.3 249.4,237.7 249.7,226.7 250.0,238.1 250.3,227.0 250.6,237.0 250.9,226.9 251.2,237.6 251.5,228.4 251.8,238.1 252.1,226.7 252.4,236.7 252.6,184.3 252.9,182.1 253.2,184.6 253.5,182.0 253.9,236.9 254.2,226.8 254.5,238.0 254.8,226.8 255.1,238.1 255.4,228.2 255.7,238.4 256.0,226.6 256.3,237.2 256.6,227.0 256.9,237.7 257.1,184.8 257.4,181.8 257.7,184.8 258.0,182.1 258.3,184.5 258.6,182.0 258.9,184.5 259.2,181.9 259.5,184.5 259.8,181.9 260.1,236.7 260.4,228.4 260.7,237.1 261.0,227.4 261.3,237.6 261.6,227.3 261.9,237.3 262.2,226.4 262.5,237.1 262.8,226.8 263.1,236.7 263.4,227.5 263.7,238.4 264.0,227.1 264.3,237.7 264.6,228.0 264.9,237.5 265.2,227.3 265.5,236.8 265.8,228.0 266.1,237.0 266.4,228.0 266.7,237.0 267.0,188.1 267.3,238.1 267.6,226.9 267.9,237.1 268.2,226.9 268.5,237.3 268.8,226.0 269.1,237.9 269.4,228.4 269.7,237.8 270.0,227.7 270.3,236.9 270.6,228.2 270.9,236.7 271.2,225.6 271.5,237.1 271.8,227.1 272.1,241.7 272.4,228.4 272.7,239.9 273.0,228.3 273.3,236.6 273.6,228.1 273.9,237.4 274.2,227.7 274.5,236.9 274.8,227.2 275.1,238.3 275.4,227.5 275.7,236.7 276.0,227.2 276.3,237.3 276.6,227.8 276.9,237.3 277.2,227.0 277.5,238.1 277.8,227.4 278.1,237.4 278.4,227.4 278.7,237.3 279.0,226.9 279.3,237.5 279.6,227.0 279.9,237.0 280.2,225.9 280.5,238.2 280.7,184.5 281.0,181.8 281.3,184.6 281.6,182.1 281.9,184.5 282.2,182.3 282.5,243.9 282.8,234.3 283.1,184.6 283.4,181.9 283.7,184.4 284.1,188.9 284.4,181.3 284.7,188.8 285.0,181.2 285.3,188.5 285.6,180.4 285.9,188.3 286.2,181.1 286.5,188.2 286.8,180.3 287.1,187.8 287.4,180.7 287.7,188.4 288.0,181.0 288.3,187.7 288.6,180.5 288.9,187.5 289.2,181.1 289.5,189.3 289.8,180.7 290.1,188.2 290.4,180.7 290.7,187.9 291.0,180.5 291.3,187.6 291.6,180.8 291.9,188.5 292.2,180.1 292.5,188.0 292.8,181.4 293.1,188.2 293.4,180.2 293.7,187.7 294.0,180.5 294.3,188.6 294.6,181.0 294.9,187.8 295.2,181.1 295.5,187.8 295.8,181.2 296.1,187.8 296.4,180.9 296.7,188.5 297.0,180.6 297.3,187.8 297.6,180.2 297.9,188.6 298.2,181.3 298.5,188.3 298.8,181.0 299.1,188.1 299.4,180.6 299.7,187.8 300.0,181.3 300.3,188.6 300.6,181.1 300.9,188.1 301.2,181.5 301.5,187.8 301.8,180.9 302.1,188.4 302.4,180.3 302.7,188.1 303.0,180.3 303.3,188.8 303.6,181.3 303.9,188.6 304.2,180.8 304.5,188.8 304.8,181.0 305.1,188.0 305.4,180.6 305.7,187.7 306.0,180.3 306.3,187.7 306.6,180.6 306.9,187.6 307.2,181.2 307.5,187.7 307.8,181.1 308.1,188.3 308.4,180.2 308.7,188.5 309.0,181.2 309.3,188.9 309.6,181.2 309.9,188.8 310.2,180.3 310.5,188.6 310.8,180.6 311.1,187.7 311.4,181.5 311.7,188.4 312.0,181.2 312.3,188.7 312.6,180.9 312.9,187.6 313.2,180.3 313.5,187.7 313.8,180.3 314.1,187.8 314.4,180.8 314.7,188.3 315.0,180.7 315.3,188.7 315.6,180.8 315.9,188.0 316.2,181.4 316.5,188.6 316.8,181.2 317.1,188.8 317.4,180.6 317.7,188.7 318.0,180.6 318.3,188.0 318.6,180.3 318.9,189.7 319.2,180.7 319.5,188.0 319.8,181.3 320.1,187.9 320.4,180.7 320.7,188.3 321.0,180.7 321.3,188.1 321.6,181.4 321.9,189.2 322.2,181.0 322.5,188.7 322.8,181.1 323.1,188.8 323.4,179.6 323.7,188.8 324.0,181.0 324.3,188.3 324.6,180.7 324.9,187.9 325.2,180.9 325.5,188.3 325.8,181.0 326.1,188.7 326.4,181.2 326.7,187.8 327.0,181.5 327.3,188.3 327.6,180.2 327.9,188.3 328.2,181.5 328.5,188.3 328.8,181.3 329.1,187.6 329.4,180.4 329.7,188.5 330.0,181.1 330.3,188.6 330.6,181.3 330.9,188.7 331.2,180.7 331.5,187.7 331.8,181.5 332.1,190.4 332.4,180.8 332.7,188.9 333.0,181.1 333.3,188.0 333.6,180.2 333.9,187.9 334.2,180.9 334.5,188.3 334.8,180.6 335.1,188.3 335.4,181.1 335.7,187.5 336.0,181.3 336.3,188.4 336.6,180.6 336.9,188.6 337.2,178.5 337.5,187.6 337.8,180.9 338.1,188.1 338.4,181.5 338.7,188.9 339.0,181.0 339.3,188.6 339.6,180.7 339.9,188.6 340.2,180.4 340.5,188.8 340.8,180.3 341.1,188.7 341.4,181.4 341.7,188.8 342.0,180.8 342.3,188.3 342.6,180.3 342.9,188.2 343.2,181.3 343.4,239.8 343.7,223.5 344.0,239.4 344.3,225.5 344.6,238.2 344.9,224.8 345.2,240.9 345.5,224.5 345.7,233.8 346.0,224.7 346.3,233.5 346.6,224.5 346.9,234.2 347.2,224.7 347.5,235.0 347.8,224.1 348.1,233.8 348.4,224.5 348.7,233.9 349.0,224.9 349.3,233.6 349.6,224.9 349.9,234.9 350.2,224.7 350.5,233.9 350.8,224.2 351.1,234.0 351.4,223.7 351.7,233.6 352.0,224.0 352.3,233.5 352.6,223.7 352.9,234.3 353.2,223.8 353.5,233.3 353.8,224.6 354.1,233.8 354.4,223.8 354.7,234.0 355.0,224.3 355.3,235.0 355.6,225.1 355.9,234.2 356.2,224.0 356.5,235.0 356.8,225.0 357.1,233.5 357.4,225.1 357.7,233.5 358.0,224.7 358.3,234.5 358.6,225.1 358.9,233.5 359.2,224.4 359.5,234.9 359.8,224.3 360.1,233.5 360.4,225.1 360.7,233.9 361.0,224.4 361.3,247.2 361.6,233.5 361.9,244.9 362.2,233.9 362.5,245.4 362.8,231.9 363.1,245.2 363.4,233.7 363.8,188.9 364.1,180.6 364.4,187.7 364.7,181.0 365.0,188.1 365.3,180.7 365.6,187.6 365.9,181.5 366.2,188.1 366.5,178.9 366.8,189.7 367.1,180.4 367.4,188.7 367.7,180.6 368.0,188.6 368.3,181.4 368.6,188.5 368.9,180.7 369.2,188.7 369.5,180.6 369.8,188.0 370.1,181.1 370.4,187.5 370.7,180.4 371.0,188.1 371.3,180.7 371.6,188.3 371.9,180.2 372.2,188.3 372.5,180.2 372.8,188.2 373.1,180.9 373.4,188.3 373.7,181.0 374.0,187.6 374.3,181.4 374.6,187.6 374.9,180.2 375.2,187.9 375.5,180.7 375.8,189.3 376.1,181.1 376.4,188.1 376.7,180.1 377.0,188.9 377.3,180.8 377.6,187.7 377.9,180.9 378.2,187.7 378.5,180.6 378.8,188.4 379.1,180.5 379.4,188.2 379.7,181.1 380.0,187.7 380.3,180.3 380.6,187.9 380.9,180.4 381.2,187.9 381.5,180.1 381.8,188.7 382.1,180.5 382.4,188.3 382.7,180.1 383.0,188.6 383.3,181.4 383.6,187.5 383.9,180.2 384.2,188.3 384.5,180.5 384.8,188.4 385.1,180.2 385.4,188.4 385.7,180.7 386.0,188.0 386.3,181.4 386.6,187.9 386.9,181.3 387.2,188.7 387.5,181.0 387.8,188.3 388.1,181.3 388.4,187.8 388.7,181.1 389.0,187.5 389.3,181.1 389.6,188.1 389.9,181.2 390.2,187.5 390.5,180.3 390.8,188.7 391.1,181.0 391.4,188.9 391.7,181.2 392.0,188.0 392.3,181.1 392.6,187.9 392.9,180.1 393.2,187.6 393.5,180.2 393.8,187.5 394.1,180.4 394.4,188.9 394.7,180.4 395.0,189.7 395.3,180.9 395.6,187.7 395.9,180.6 396.2,188.5 396.5,180.8 396.8,187.8 397.1,181.3 397.4,188.4 397.7,180.2 398.0,188.3 398.3,180.4 398.6,188.8 398.9,181.3 399.2,188.4 399.5,181.2 399.8,188.3 400.1,180.3 400.4,188.6 400.7,180.5 401.0,188.8 401.3,181.5 401.6,188.8 401.9,180.9 402.2,187.9 402.5,180.9 402.8,187.5 403.1,181.3 403.4,188.9 403.7,180.3 404.0,187.5 404.3,180.9 404.6,188.4 404.9,181.4 405.2,188.1 405.5,181.4 405.8,187.9 406.1,180.6 406.4,188.7 406.7,180.6 407.0,187.8 407.3,180.1 407.6,188.5 407.9,180.1 408.2,187.9 408.5,181.5 408.8,188.7 409.1,181.3 409.4,187.7 409.7,181.2 410.0,188.3 410.3,180.3 410.6,187.9 410.9,180.8 411.2,188.6 411.5,181.1 411.8,188.4 412.1,180.4 412.4,187.6 412.7,181.2 413.0,188.5 413.3,181.5 413.6,188.1 413.9,181.2 414.2,187.8 414.5,180.2 414.8,188.0 415.1,180.0 415.4,189.1 415.7,180.9 416.0,187.8 416.3,181.2 416.6,188.8 416.9,180.5 417.2,187.5 417.5,181.5 417.8,188.2 418.1,179.8 418.4,187.5 418.7,180.2 419.0,188.3 419.3,181.5 419.6,187.9 419.9,180.3 420.2,188.2 420.5,181.3 420.8,188.0 421.1,181.1 421.4,187.9 421.7,180.9 422.0,188.5 422.3,180.3 422.6,187.6 422.9,181.3 423.2,188.0 423.5,181.4 423.8,188.5 424.1,178.8 424.4,187.8 424.7,180.8 425.0,187.6 425.3,181.4 425.6,190.8 425.9,178.9 426.2,188.2 426.5,180.4 426.8,188.6 427.1,180.1 427.4,188.7 427.7,181.0 428.0,188.2 428.3,180.4 428.6,188.7 428.9,180.2 429.2,188.9 429.5,181.0 429.8,187.6 430.1,180.7 430.4,187.6 430.7,180.7 431.0,188.6 431.3,180.6 431.6,188.8 431.9,180.8 432.2,188.4 432.5,180.7 432.8,188.7 433.1,181.3 433.4,188.5 433.7,180.8 434.0,188.8 434.3,180.9 434.6,188.4 434.9,181.2 435.2,187.7 435.5,180.6 435.8,188.1 436.1,180.8 436.4,188.7 436.7,180.7 437.0,187.6 437.4,237.1 437.7,227.3 438.0,236.5 438.3,228.0 438.6,237.2 438.9,225.5 439.2,237.2 439.5,228.0 439.8,238.2 440.1,227.3 440.4,238.1 440.7,226.7 441.0,238.3 441.3,226.9 441.6,237.8 441.9,227.5 442.2,237.1 442.5,228.3 442.8,237.9 443.1,227.7 443.4,237.5 443.7,227.5 444.0,238.4 444.3,227.9 444.6,237.8 444.9,227.4 445.2,237.2 445.5,226.8 445.8,238.7 446.1,228.0 446.4,236.8 446.7,227.0 447.0,236.5 447.3,228.3 447.6,237.2 447.9,228.3 448.2,237.7 448.5,227.2 448.8,237.9 449.1,227.3 449.4,238.2 449.7,226.7 450.0,236.7 450.3,227.6 450.6,237.3 450.9,227.1 451.2,237.0 451.5,228.4 451.8,238.3 452.1,227.4 452.4,237.6 452.7,228.2 453.0,238.1 453.3,228.1 453.6,236.9 453.9,226.8 454.2,238.0 454.5,226.9 454.8,237.3 455.1,226.9 455.4,237.2 455.7,226.8 456.0,237.6 456.3,226.9 456.6,238.2 456.9,227.3 457.2,238.2 457.5,227.6 457.8,237.2 458.1,227.1 458.4,237.5 458.7,226.6 459.0,237.0 459.3,228.3 459.6,237.0 459.9,227.9 460.2,236.5 460.5,227.3 460.8,238.0 461.1,226.8 461.4,237.3 461.7,227.0 462.0,238.2 462.3,227.2 462.6,236.6 462.9,227.6 463.2,237.7 463.5,227.1 463.8,241.6 464.1,227.0 464.4,237.9 464.7,225.1 465.0,238.0 465.3,227.3 465.6,236.8 465.9,227.1 466.2,238.3 466.5,227.2 466.8,237.2 467.1,227.7 467.4,236.8 467.7,226.6 468.0,238.2 468.3,227.5 468.6,237.6 468.9,227.7 469.2,237.9 469.5,227.1 469.8,237.7 470.1,228.0 470.4,236.5 470.7,227.2 471.0,236.7 471.3,227.6 471.6,236.6 471.9,226.9 472.2,236.6 472.5,228.4 472.8,238.0 473.1,226.9 473.4,238.3 473.7,226.9 474.0,237.6 474.3,226.8 474.6,238.1 474.9,227.5 475.2,237.8 475.5,226.9 475.9,184.7 476.2,182.0 476.5,184.4 476.8,182.3 477.1,184.5 477.4,181.8 477.7,235.2 478.0,224.5 478.3,235.6 478.6,225.4 478.9,236.1 479.2,225.0 479.5,235.2 479.8,225.8 480.1,235.8 480.4,224.6 480.7,234.8 481.0,225.9 481.3,235.0 481.6,225.1 481.9,235.5 482.2,226.2 482.7,184.4 483.0,234.7 483.3,225.9 483.6,236.0 483.9,224.9 484.2,235.8 484.5,224.8 484.8,234.8 485.1,226.1 485.4,235.9 485.7,224.8 486.0,234.9 486.3,225.7 486.6,235.4 486.9,225.9 487.2,236.1 487.5,224.0 487.8,235.9 488.1,225.8 488.4,234.5 488.7,225.0 489.0,235.9 489.3,224.5 489.5,184.5 489.8,181.9 490.1,184.6 490.4,181.8 490.7,184.5 491.0,182.2 491.3,184.7 491.6,182.1 491.9,184.9 492.2,181.8 492.5,184.7 492.8,182.0 493.1,184.5 493.4,182.2 493.7,184.6 494.0,182.1 494.3,184.6 494.6,181.9 494.9,184.8 495.2,182.2 495.5,184.8 495.8,181.9 496.1,184.6 496.5,236.2 496.8,227.3 497.1,236.5 497.4,226.9 497.7,236.5 498.0,226.4 498.3,236.2 498.6,226.7 498.9,237.5 499.2,227.6 499.5,236.0 499.8,226.1 500.1,236.9 500.4,227.2 500.7,237.1 501.0,227.1 501.5,186.4 501.8,237.3 502.1,226.8 502.4,236.3 502.7,226.5 503.0,237.1 503.3,226.4 503.6,237.3 503.9,226.1 504.2,237.2 504.5,227.1 504.8,237.8 505.1,226.8 505.4,236.3 505.9,183.8 506.2,235.0 506.5,224.9 506.8,236.0 507.1,225.5 507.4,184.5 507.7,234.7 508.0,225.9 508.3,234.4 508.6,225.0 509.0,184.1 509.3,234.4 509.6,225.9 509.9,234.4 510.4,184.6 510.7,234.3 511.0,226.2 511.3,235.6 511.6,224.9 511.9,235.5 512.2,225.1 512.5,235.1 512.8,225.6 513.1,236.1 513.4,226.3 513.7,235.0 514.0,226.1 514.3,235.1 514.5,184.6 514.8,234.6 515.1,224.9 515.4,234.8 515.7,224.6 516.0,235.5 516.3,225.1 516.6,234.7 516.9,224.8 517.2,234.6 517.5,226.1 517.8,235.4 518.1,225.9 518.4,235.0 518.7,224.8 519.0,236.0 519.3,224.8 519.6,235.9 519.9,225.9 520.3,183.5 520.6,234.6 520.9,226.1 521.2,234.8 521.5,226.0 521.8,234.4 522.1,226.4 522.4,235.4 522.7,224.9 523.0,235.1 523.3,225.3 523.6,234.6 523.9,225.7 524.2,234.4 524.5,225.1 524.8,235.3 525.1,226.2 525.4,234.4 525.7,226.2 526.0,235.6 526.3,225.1 526.6,234.5 526.9,225.5 527.2,235.9 527.5,224.6 527.8,234.6 528.1,225.1 528.4,234.5 528.7,224.5 529.0,236.9 529.3,225.1 529.6,235.6 529.8,183.4 530.1,234.4 530.4,225.0 530.7,234.7 531.0,224.8 531.3,234.4 531.6,226.0 531.9,234.7 532.2,225.3 532.5,235.3 532.8,224.6 533.1,235.4 533.4,226.3 533.7,234.6 534.0,225.6 534.3,235.4 534.6,224.7 534.9,234.5 535.2,225.0 535.5,235.1 535.8,225.7 536.1,239.3 536.4,224.6 536.7,235.1 537.0,225.5 537.3,234.6 537.6,225.5 537.9,234.7 538.2,225.9 538.5,234.4 538.8,225.6 539.1,235.8 539.4,226.3 539.7,235.6 540.0,225.8 540.4,185.0 540.7,234.9 541.0,226.2 541.3,235.7 541.6,223.0 541.9,235.2 542.2,225.6 542.5,235.4 542.8,224.6 543.1,234.3 543.4,224.6 543.7,234.7 544.0,226.3 544.3,234.5 544.6,226.1 544.9,234.8 545.2,225.1 545.5,234.4 545.8,224.8 546.1,234.4 546.4,224.6 546.6,183.9 546.9,236.1 547.2,225.1 547.5,235.8 547.8,225.3 548.1,234.7 548.4,226.0 548.7,235.7 549.0,225.0 549.3,234.5 549.6,226.1 549.9,235.0 550.2,225.4 550.5,235.6 550.8,224.7 551.1,183.8 551.4,234.6 551.7,224.8 552.0,235.6 552.3,225.7 552.6,235.4 552.9,224.9 553.2,234.9 553.5,225.0 553.8,234.7 554.1,225.8 554.4,234.8 554.7,225.5 555.0,234.4 555.4,185.4 555.7,236.1 556.0,225.9 556.3,234.3 556.6,225.6 556.9,235.9 557.2,225.7 557.5,235.1 557.8,225.4 558.1,235.2 558.4,224.9 558.7,236.0 559.0,224.7 559.3,234.9 559.6,224.6 559.9,235.3 560.2,226.1 560.4,184.3 560.7,236.1 561.0,226.1 561.3,235.9 561.6,226.3 561.9,235.2 562.2,224.8 562.5,235.1 562.8,225.1 563.1,234.5 563.4,225.7 563.7,234.8 564.0,223.8 564.2,185.1 564.5,235.7 564.8,221.8 565.1,234.7 565.4,224.9 565.7,236.1 566.0,224.8 566.3,234.6 566.6,226.2 566.9,234.9 567.2,226.2 567.5,235.3 567.8,224.9 568.1,235.8 568.4,225.6 568.7,235.9 569.0,226.2 569.3,235.6 569.6,225.3 569.9,235.1 570.2,225.2 570.4,184.3 570.7,234.9 571.0,225.3 571.3,235.9 571.6,225.0 571.9,234.5 572.2,226.0 572.5,235.5 572.8,226.0 573.1,235.4 573.4,223.3 573.7,234.8 574.0,224.7 574.3,235.3 574.6,225.9 574.9,234.4 575.2,224.6 575.5,235.7 575.8,225.3 576.1,236.1 576.4,225.6 576.6,184.7 576.9,235.4 577.1,245.6 577.4,236.1 577.7,245.3 578.0,235.7 578.3,244.8 578.6,235.8 578.9,245.5 579.2,235.3 579.5,244.7 579.8,235.4 580.1,245.9 580.4,235.5 580.7,247.5 581.0,236.2 581.3,246.1 581.6,236.2 581.9,244.9 582.1,187.0 582.4,181.1 582.7,186.2 583.0,181.5 583.3,186.9 583.6,181.6 583.9,186.9 584.2,181.2 584.5,186.2 584.8,180.4 585.1,186.7 585.4,181.6 585.7,186.9 586.0,181.2 586.3,186.4 586.6,181.1 586.9,187.4 587.2,181.3 587.5,186.4 587.8,181.1 588.1,186.1 588.4,181.4 588.7,186.9 589.0,180.8 589.3,186.4 589.6,181.7 589.9,186.5 590.2,181.2 590.5,186.5 590.8,181.3 591.1,186.3 591.4,181.1 591.7,186.7 592.0,181.4 592.3,186.2 592.6,181.6 592.9,186.9 593.2,180.8 593.5,186.3 593.8,181.7 594.1,186.5 594.4,180.9 594.7,186.8 595.0,181.3 595.3,186.3 595.6,181.1 595.9,187.1 596.2,181.6 596.5,186.2 596.8,181.4 597.1,186.2 597.4,181.5 597.7,186.2 598.0,181.5 598.3,186.7 598.6,181.1 598.9,186.1 599.0,242.1 599.3,220.0 599.6,241.3 599.7,186.3 600.0,181.5 600.3,186.2 600.6,181.5 600.9,187.0 601.2,181.0 601.5,186.0 601.8,181.4 602.1,186.8 602.4,181.8 602.7,186.0 603.0,181.2 603.3,186.8 603.6,181.8 603.9,186.9 604.2,181.7 604.5,186.0 604.8,181.3 605.1,186.6 605.4,181.3 605.7,186.8 606.0,181.5 606.3,186.1 606.6,181.3 606.9,186.1 607.2,181.6 607.5,186.8 607.8,180.9 608.1,186.4 608.4,181.5 608.7,186.9 609.0,181.5 609.3,186.3 609.6,181.1 609.9,186.6 610.2,181.2 610.5,186.4 610.8,181.0 611.1,186.5 611.4,181.1 611.6,234.5 611.9,206.3 612.2,239.5 612.5,208.7 612.8,235.3 613.1,207.1 613.4,238.1 613.7,206.9 614.0,238.5 614.3,208.4 614.5,243.6 614.8,230.4 615.0,186.8 615.3,181.6 615.6,186.6 615.9,181.4 616.2,186.2 616.5,181.1 616.8,186.5 617.1,181.0 617.4,186.7 617.7,181.0 618.0,186.7 618.3,181.7 618.6,186.1 618.9,181.2 619.2,187.0 619.5,181.1 619.8,186.4 620.1,180.8 620.4,186.4 620.7,181.0 621.0,187.0 621.3,181.6 621.6,186.6 621.9,181.7 622.2,186.2 622.5,181.3 622.8,186.8 623.1,181.1 623.4,186.7 623.7,180.8 624.0,186.0 624.3,181.7 624.6,186.7 624.9,181.2 625.2,186.9 625.5,180.9 625.8,186.2 626.1,181.6 626.4,186.5 626.7,180.9 627.0,186.4 627.3,181.5 627.6,186.3 627.9,181.0 628.2,186.9 628.5,181.0 628.8,187.0 629.1,181.7 629.4,186.4 629.7,181.7 630.0,186.4 630.3,181.8 630.6,186.5 630.9,181.6 631.2,186.6 631.5,181.3 631.8,186.6 632.1,181.1 632.4,186.7 632.7,181.7 633.0,187.0 633.3,181.7 633.6,186.7 633.9,181.0 634.2,186.6 634.5,181.2 634.8,186.2 635.1,181.5 635.4,186.5 635.7,181.0 636.0,186.8 636.3,181.0 636.6,186.6 636.9,180.8 637.2,186.4 637.5,181.0 637.8,186.4 638.1,180.8 638.4,186.8 638.7,181.5 639.0,186.7 639.3,181.4 639.6,186.7 639.9,181.0 640.2,186.8 640.5,180.8 640.8,186.1 641.1,181.6 641.4,186.4 641.7,180.8 642.0,187.0 642.3,181.0 642.6,186.4 642.9,181.1 643.1,244.0 643.4,230.8 643.7,242.7 644.0,230.7 644.3,243.0 644.6,229.5 644.9,242.8 645.2,228.5 645.3,186.2 645.6,181.4 645.9,186.2 646.2,181.6 646.5,186.3 646.8,181.7 647.1,187.0 647.4,181.6 647.7,186.0 648.0,181.7 648.3,186.5 648.6,181.3 648.9,187.2 649.2,181.0 649.5,186.5 649.8,181.4 650.1,186.0 650.4,181.7 650.7,188.0 651.0,181.6 651.3,186.2 651.6,181.3 651.9,186.1 652.2,180.9 652.5,186.4 652.8,181.0 653.1,186.4 653.4,181.5 653.7,186.1 654.0,181.2 654.3,187.0 654.6,180.9 654.9,186.5 655.2,181.6 655.5,187.0 655.8,181.1 656.1,186.7 656.4,181.4 656.7,186.4 657.0,181.5 657.3,186.7 657.6,181.7 657.9,186.6 658.2,181.4 658.5,186.6 658.8,181.0 659.1,186.1 659.4,181.1 659.7,186.8 660.0,181.6 660.3,186.7 660.6,180.8 660.8,238.3 661.1,229.1 661.4,239.1 661.7,229.5 662.0,238.8 662.3,229.5 662.6,238.5 662.9,229.2 663.2,237.7 663.5,229.0 663.8,238.5 664.1,227.9 664.4,238.4 664.7,229.5 665.0,238.1 665.3,228.5 665.6,237.6 665.9,228.9 666.2,238.1 666.5,228.0 666.8,239.0 667.1,229.4 667.4,239.0 667.7,228.3 668.0,239.0 668.3,229.1 668.6,237.7 668.9,229.1 669.2,238.7 669.5,228.8 669.8,237.5 670.1,228.1 670.4,237.8 670.7,228.7 671.0,238.0 671.3,228.2 671.6,237.9 671.9,228.5 672.2,238.7 672.5,228.7 672.8,237.6 673.1,228.7 673.4,238.2 673.7,228.7 674.0,239.2 674.3,229.1 674.6,238.4 674.9,229.5 675.2,238.9 675.5,229.4 675.8,239.0 676.1,229.4 676.4,239.2 676.7,228.8 677.0,237.9 677.3,228.6 677.6,239.2 677.9,228.4 678.2,238.6 678.5,228.8 678.8,238.3 679.1,228.0 679.4,238.9 679.7,228.8 680.0,238.6 680.3,228.7 680.6,238.1 680.9,229.4 681.2,237.6 681.5,229.3 681.8,237.5 682.1,229.5 682.4,240.3 682.7,228.9 683.0,238.9 683.3,228.0 683.6,238.2 683.7,184.5 684.0,182.0 684.3,184.4 684.6,182.2 684.9,185.1 685.2,182.0 685.5,184.7 685.8,181.8 686.1,184.4 686.4,181.9 686.7,184.8 687.0,181.9 687.3,184.6 687.6,181.9 687.9,184.5 688.2,182.0 688.5,184.7 688.8,181.8 689.1,184.7 689.4,181.8 689.7,184.5 690.0,182.1 690.3,184.5 690.6,182.0 690.9,184.5 691.2,182.3 691.5,184.4 691.8,182.2 692.0,247.0 692.3,236.4 692.6,247.3 692.9,235.5 693.2,246.6 693.5,236.5 693.8,245.6 694.1,237.2 694.4,245.8 694.7,236.9 695.0,247.1 695.3,237.0 695.6,246.5 695.7,188.5 696.0,180.2 696.3,189.7 696.6,180.6 696.9,188.4 697.2,180.2 697.5,188.0 697.8,181.5 698.1,187.9 698.4,181.5 698.7,188.4 699.0,181.1 699.3,188.8 699.6,181.4 699.9,187.8 700.2,181.5 700.5,188.1 700.8,180.9 701.1,188.5 701.4,180.1 701.7,188.8 702.0,181.2 702.3,188.2 702.6,180.2 702.9,188.8 703.2,180.6 703.5,188.2 703.8,181.2 704.1,188.0 704.4,180.5 704.7,188.5 705.0,180.8 705.3,187.8 705.6,180.5 705.9,187.7 706.2,180.9 706.5,188.4 706.8,181.2 707.1,187.6 707.4,181.0 707.7,188.7 708.0,181.2 708.3,188.7 708.6,180.4 708.9,187.7 709.2,180.9 709.5,187.8 709.8,181.4 710.1,187.8 710.4,180.7 710.7,188.3 711.0,181.0 711.3,188.4 711.6,180.6 711.9,187.8 712.2,181.3 712.5,188.8 712.8,180.7 713.1,188.1 713.4,181.4 713.7,188.8 714.0,179.6 714.3,187.7 714.6,180.4 714.9,188.7 715.2,181.3 715.5,187.9 715.8,181.2 716.1,188.1 716.4,181.3 716.7,187.6 717.0,181.0 717.3,188.4 717.6,180.7 717.9,187.6 718.2,180.8 718.5,187.8 718.8,180.4 719.1,188.3 719.4,180.8 719.7,188.5 720.0,181.1 720.3,188.5 720.6,181.3 720.9,188.1 721.2,180.8 721.5,188.8 721.8,180.2 722.1,188.4 722.4,180.3 722.7,188.5 723.0,180.2 723.3,188.1 723.6,180.5 723.9,189.4 724.2,181.3 724.5,188.8 724.8,180.4 725.1,188.8 725.4,180.8 725.7,188.0 726.0,180.2 726.3,188.6 726.6,180.2 726.9,188.0 727.2,181.4 727.5,188.8 727.8,181.1 728.1,188.4 728.4,180.2 728.7,188.6 729.0,180.9 729.3,188.0 729.6,181.0 729.9,187.5 730.2,180.4 730.5,187.6 730.8,181.2 731.1,188.8 731.4,178.7 731.7,188.0 732.0,180.6 732.3,188.8 732.6,180.8 732.9,187.6 733.2,180.5 733.5,187.8 733.8,180.4 734.1,187.9 734.4,180.6 734.7,187.9 735.0,180.2 735.3,188.7 735.6,180.5 735.9,188.2 736.2,180.1 736.5,189.0 736.8,180.3 737.1,188.7 737.4,181.4 737.7,189.8 738.0,180.5 738.3,187.9 738.6,180.7 738.9,188.7 739.2,180.8 739.5,190.5 739.8,180.6 740.1,187.5 740.4,181.0 740.7,188.4 741.0,180.3 741.3,188.1 741.6,180.1 741.9,187.6 742.2,180.4 742.5,188.6 742.8,180.6 743.1,187.9 743.4,180.7 743.7,188.9 744.0,180.7 744.3,187.6 744.6,180.8 744.9,187.9 745.2,181.3 745.5,188.0 745.8,181.2 746.1,187.5 746.4,180.7 746.7,187.9 747.0,180.3 747.3,188.3 747.6,181.0 747.9,188.8 748.2,180.6 748.5,187.8 748.8,180.6 749.1,188.1 749.4,180.9 749.7,188.4 750.0,180.2 750.3,188.3 750.6,181.4 750.9,188.3 751.2,181.0 751.5,188.1 751.8,181.5 752.1,188.8 752.4,180.8 752.7,188.7 753.0,180.6 753.3,187.8 753.6,180.7 753.9,188.0 754.2,180.3 754.5,188.1 754.8,181.0 755.1,188.8 755.4,181.3 755.7,188.8 756.0,180.8 756.3,188.8 756.6,180.1 756.9,188.0 757.2,180.5 757.5,187.8 757.8,180.1 758.1,187.9 758.4,180.5 758.7,188.8 759.0,181.1 759.3,188.0 759.6,180.8 759.9,187.8 760.2,180.8 760.5,187.8 760.8,180.9 761.1,188.6 761.4,180.8 761.7,187.6 762.0,181.0 762.3,187.8 762.6,180.5 762.9,188.7 763.2,180.4 763.5,187.6 763.8,180.6 764.1,188.6 764.4,180.3 764.7,188.1 765.0,181.2 765.3,188.7 765.6,180.5 765.9,188.2 766.2,181.5 766.5,188.1 766.8,181.2 767.1,187.8 767.4,181.0 767.7,188.7 768.0,180.6 768.3,188.3 768.6,180.6 768.9,187.9 769.2,181.0 769.5,187.5 769.8,180.4 770.1,188.4 770.4,181.0 770.7,188.2 771.0,180.9 771.3,188.1 771.6,181.1 771.9,188.0 772.2,180.8 772.5,188.4 772.8,181.3 773.1,188.0 773.4,180.4 773.7,188.5 774.0,180.3 774.3,188.1 774.6,181.4 774.9,188.8 775.2,180.2 775.5,188.6 775.8,180.3 776.1,187.6 776.4,181.1 776.7,188.2 777.0,180.8 777.3,188.3 777.6,180.5 777.9,187.5 778.0,246.3 778.3,236.1 778.6,245.6 778.9,235.2" fill="none" stroke="#000" stroke-width=".55" stroke-linejoin="round"/><path d="M140.9,184.5V192.9M170.2,184.5V192.9M86.5,184.5V191.4M143.3,184.5V193.8M145.2,179.7V184.5M133.7,184.5V192.0M135.1,179.6V184.5M167.8,184.5V193.0M170.4,180.0V184.5M140.4,184.5V189.5M143.2,179.8V184.5M103.6,184.5V194.2M110.3,184.5V194.1M146.0,184.5V189.9M147.1,184.5V194.1M111.2,184.5V190.8M112.5,180.1V184.5M111.4,184.5V192.1M113.8,179.5V184.5M112.2,184.5V193.3M112.8,184.5V191.4M89.0,184.5V194.2M91.5,178.2V184.5M85.5,184.5V193.1M136.9,184.5V188.8M138.2,177.9V184.5M101.8,184.5V193.0M220.1,184.5V190.7M201.5,184.5V193.1M204.0,178.3V184.5M216.5,184.5V189.0M182.3,184.5V190.7M219.1,184.5V190.7M202.5,184.5V190.5M186.1,184.5V189.2M188.5,177.8V184.5M185.4,184.5V189.1M201.9,184.5V191.0M204.1,178.2V184.5M311.1,184.5V191.1M314.0,180.2V184.5M313.3,184.5V193.4M315.8,177.9V184.5M321.3,184.5V193.1M323.2,179.9V184.5M333.8,184.5V190.4M342.8,184.5V193.5M311.0,184.5V191.5M312.5,184.5V190.4M293.1,184.5V190.9M340.5,184.5V192.2M304.3,184.5V189.3M330.1,184.5V193.6M330.3,184.5V193.1M412.4,184.5V193.0M415.4,184.5V190.3M420.1,184.5V192.6M432.9,184.5V192.4M365.1,184.5V191.8M413.0,184.5V191.3M411.2,184.5V193.2M411.0,184.5V192.9M389.7,184.5V193.4M414.2,184.5V194.2M401.9,184.5V191.7M404.5,178.0V184.5M398.9,184.5V192.6M417.3,184.5V189.7M406.4,184.5V192.5M409.5,184.5V193.1M754.7,184.5V189.0M756.6,178.7V184.5M714.0,184.5V192.6M699.6,184.5V191.4M700.7,180.0V184.5M722.0,184.5V189.8M723.0,179.1V184.5M727.1,184.5V192.2M715.5,184.5V193.8M717.3,179.6V184.5M729.5,184.5V189.4M726.6,184.5V189.0M703.9,184.5V191.8M743.4,184.5V194.1M730.2,184.5V193.3M726.2,184.5V189.6M742.0,184.5V194.1M745.6,184.5V190.7M696.3,184.5V189.4M746.2,184.5V189.6M768.6,184.5V190.9M72.2,184.8V231.9M75.8,184.8V231.9M349.5,184.8V229.3M275.0,222.3V232.5" fill="none" stroke="#000" stroke-width=".45" opacity=".75"/>
<text x="58.8" y="168" font-size="11.2" font-weight="bold" text-anchor="middle" style="fill:#2c5fa9;stroke:none">Pr<tspan font-size="6.7" dy="-4.0">3+</tspan></text>
<circle cx="56.2" cy="174.7" r="2.0" fill="#2c5fa9"/>
<text x="79.5" y="168" font-size="11.2" font-weight="bold" text-anchor="middle" style="fill:#6cbfe6;stroke:none">La<tspan font-size="6.7" dy="-4.0">3+</tspan></text>
<circle cx="76.3" cy="174.7" r="2.0" fill="#6cbfe6"/>
<text x="134.5" y="168" font-size="11.2" font-weight="bold" text-anchor="middle" style="fill:#9268b3;stroke:none">Sm<tspan font-size="6.7" dy="-4.0">3+</tspan></text>
<circle cx="130.8" cy="174.7" r="2.0" fill="#9268b3"/>
<text x="205" y="168" font-size="11.2" font-weight="bold" text-anchor="middle" style="fill:#9268b3;stroke:none">Sm<tspan font-size="6.7" dy="-4.0">3+</tspan></text>
<circle cx="201" cy="174.7" r="2.0" fill="#9268b3"/>
<text x="257.5" y="168" font-size="11.2" font-weight="bold" text-anchor="middle" style="fill:#e0423e;stroke:none">Ce<tspan font-size="6.7" dy="-4.0">3+</tspan></text>
<circle cx="234" cy="174.7" r="2.0" fill="#e0423e"/><circle cx="245.6" cy="174.7" r="2.0" fill="#e0423e"/><circle cx="252" cy="174.7" r="2.0" fill="#e0423e"/><circle cx="259" cy="174.7" r="2.0" fill="#e0423e"/><circle cx="280.7" cy="174.7" r="2.0" fill="#e0423e"/>
<text x="317" y="168" font-size="11.2" font-weight="bold" text-anchor="middle" style="fill:#3b9e5f;stroke:none">Nd<tspan font-size="6.7" dy="-4.0">3+</tspan></text>
<circle cx="315.8" cy="174.7" r="2.0" fill="#3b9e5f"/>
<text x="340.3" y="168" font-size="11.2" font-weight="bold" text-anchor="middle" style="fill:#e0423e;stroke:none">Ce<tspan font-size="6.7" dy="-4.0">3+</tspan></text>
<circle cx="343.9" cy="174.7" r="2.0" fill="#e0423e"/>
<text x="363" y="168" font-size="11.2" font-weight="bold" text-anchor="middle" style="fill:#6cbfe6;stroke:none">La<tspan font-size="6.7" dy="-4.0">3+</tspan></text>
<circle cx="350.9" cy="174.7" r="2.0" fill="#6cbfe6"/><circle cx="361.9" cy="174.7" r="2.0" fill="#6cbfe6"/>
<text x="401" y="168" font-size="11.2" font-weight="bold" text-anchor="middle" style="fill:#3ba8a4;stroke:none">Gd<tspan font-size="6.7" dy="-4.0">3+</tspan></text>
<circle cx="400" cy="174.7" r="2.0" fill="#3ba8a4"/>
<text x="469.3" y="168" font-size="11.2" font-weight="bold" text-anchor="middle" style="fill:#e0423e;stroke:none">Ce<tspan font-size="6.7" dy="-4.0">3+</tspan></text>
<circle cx="475.3" cy="174.7" r="2.0" fill="#e0423e"/>
<text x="492.7" y="168" font-size="11.2" font-weight="bold" text-anchor="middle" style="fill:#6cbfe6;stroke:none">La<tspan font-size="6.7" dy="-4.0">3+</tspan></text>
<circle cx="483.3" cy="174.7" r="2.0" fill="#6cbfe6"/><circle cx="493.3" cy="174.7" r="2.0" fill="#6cbfe6"/>
<text x="543.4" y="168" font-size="11.2" font-weight="normal" text-anchor="middle" style="fill:#6cbfe6;stroke:#6cbfe6;stroke-width:.35px">La<tspan font-size="6.7" dy="-4.0">3+</tspan></text>
<path d="M505.7,182.6 V178.6 Q505.7,177.4 507,177.4 H539.5 Q541.3,177.4 541.3,175.4 Q541.3,177.4 543,177.4 H575.7 Q577,177.4 577,178.6 V182.6" fill="none" stroke="#6cbfe6" stroke-width=".9"/>
<text x="603.3" y="168" font-size="11.2" font-weight="bold" text-anchor="middle" style="fill:#3b9e5f;stroke:none">Nd<tspan font-size="6.7" dy="-4.0">3+</tspan></text>
<circle cx="591" cy="174.7" r="2.0" fill="#3b9e5f"/><circle cx="607" cy="174.7" r="2.0" fill="#3b9e5f"/>
<text x="642.2" y="168" font-size="11.2" font-weight="bold" text-anchor="middle" style="fill:#3b9e5f;stroke:none">Nd<tspan font-size="6.7" dy="-4.0">3+</tspan></text>
<circle cx="628.4" cy="174.7" r="2.0" fill="#3b9e5f"/><circle cx="652.9" cy="174.7" r="2.0" fill="#3b9e5f"/>
<text x="676.5" y="168" font-size="11.2" font-weight="bold" text-anchor="middle" style="fill:#e0423e;stroke:none">Ce<tspan font-size="6.7" dy="-4.0">3+</tspan></text>
<circle cx="663.3" cy="174.7" r="2.0" fill="#e0423e"/><circle cx="686.3" cy="174.7" r="2.0" fill="#e0423e"/>
<text x="740" y="168" font-size="11.2" font-weight="bold" text-anchor="middle" style="fill:#c1901f;stroke:none">Eu<tspan font-size="6.7" dy="-4.0">3+</tspan></text>
<circle cx="739.7" cy="174.7" r="2.0" fill="#c1901f"/>
<path d="M766,250.4 H784.6" stroke="#000" stroke-width="1.3"/><text x="775.5" y="262.6" font-size="8.6" text-anchor="middle">2 s</text>
<path d="M49.4,277.3 V363" stroke="#222" stroke-width=".8"/><path d="M49.4,286.3 h-4" stroke="#222" stroke-width=".8"/><text x="43.9" y="289.3" font-size="8.6" text-anchor="end">220</text><path d="M49.4,295.4 h-2.3" stroke="#222" stroke-width=".7"/><path d="M49.4,304.4 h-4" stroke="#222" stroke-width=".8"/><text x="43.9" y="307.4" font-size="8.6" text-anchor="end">180</text><path d="M49.4,313.5 h-2.3" stroke="#222" stroke-width=".7"/><path d="M49.4,322.6 h-4" stroke="#222" stroke-width=".8"/><text x="43.9" y="325.6" font-size="8.6" text-anchor="end">140</text><path d="M49.4,331.7 h-2.3" stroke="#222" stroke-width=".7"/><path d="M49.4,340.8 h-4" stroke="#222" stroke-width=".8"/><text x="43.9" y="343.8" font-size="8.6" text-anchor="end">100</text><path d="M49.4,349.8 h-2.3" stroke="#222" stroke-width=".7"/><path d="M49.4,358.9 h-4" stroke="#222" stroke-width=".8"/><text x="43.9" y="361.9" font-size="8.6" text-anchor="end">60</text><path d="M49.4,277.2 h-2.3" stroke="#222" stroke-width=".7"/><text transform="translate(20,319.4) rotate(-90)" font-size="8.9" text-anchor="middle" style="fill:#333;stroke:none">Current (pA)</text>
<path d="M50.0,352.3 50.3,344.2 50.6,352.1 50.9,343.3 51.2,351.8 51.5,343.4 51.8,351.5 52.1,343.2 52.4,352.3 52.7,343.6 53.0,351.8 53.3,343.8 53.6,352.2 53.9,343.4 54.2,350.9 54.5,344.1 54.8,352.4 55.1,301.4 55.4,294.4 55.7,302.4 56.0,294.4 56.3,302.5 56.6,295.2 56.9,302.1 57.2,294.7 57.5,302.4 57.8,294.3 58.1,302.3 58.4,294.8 58.7,302.4 59.0,294.8 59.3,301.6 59.6,295.2 59.9,301.5 60.2,295.0 60.5,302.1 60.8,294.7 61.1,301.9 61.4,295.2 61.7,302.4 62.0,295.3 62.3,302.1 62.6,295.2 62.9,301.2 63.2,295.1 63.5,302.3 63.8,294.7 64.1,301.5 64.4,294.3 64.7,303.0 65.0,295.2 65.3,301.3 65.6,295.4 65.9,301.2 66.2,294.4 66.5,301.4 66.8,292.9 67.1,302.0 67.4,294.6 67.7,301.3 68.0,295.4 68.3,302.2 68.6,294.2 68.9,302.3 69.2,294.8 69.5,302.0 69.8,295.3 70.1,302.3 70.4,294.7 70.7,301.8 71.0,294.2 71.3,302.0 71.6,295.4 71.9,301.4 72.2,295.2 72.5,302.0 72.8,294.1 73.1,302.5 73.4,294.8 73.7,302.0 74.0,294.4 74.3,301.5 74.6,294.7 74.9,301.7 75.2,294.5 75.5,301.3 75.8,295.1 76.1,301.9 76.4,295.0 76.7,301.4 77.0,294.1 77.3,301.7 77.6,293.8 77.9,301.9 78.2,295.3 78.5,301.6 78.8,294.2 79.1,301.5 79.4,293.6 79.7,301.3 80.0,294.3 80.3,301.2 80.6,294.9 80.9,301.4 81.2,295.3 81.5,301.7 81.8,295.3 82.1,301.4 82.4,294.9 82.7,302.2 83.0,295.3 83.3,301.3 83.6,294.6 83.9,303.6 84.2,294.4 84.5,301.8 84.8,294.8 85.1,301.5 85.4,294.8 85.7,302.2 86.0,294.3 86.3,301.5 86.6,295.1 86.9,302.1 87.2,294.7 87.5,301.3 87.8,294.1 88.1,301.7 88.4,295.3 88.7,302.5 89.0,295.3 89.3,301.5 89.6,294.5 89.9,301.9 90.2,294.7 90.5,302.2 90.8,294.7 91.1,301.5 91.4,294.8 91.7,301.7 92.0,294.4 92.3,301.4 92.6,295.4 92.9,302.3 93.2,294.8 93.5,301.7 93.8,294.2 94.1,301.8 94.4,295.0 94.7,302.0 95.0,294.3 95.3,302.0 95.6,294.5 95.9,303.0 96.2,294.5 96.5,302.0 96.8,295.4 97.1,302.1 97.4,294.2 97.7,301.3 98.0,294.4 98.3,302.2 98.6,295.2 98.9,301.3 99.2,294.9 99.5,301.9 99.8,295.2 100.1,302.1 100.4,294.3 100.7,302.2 101.0,294.5 101.3,301.5 101.6,295.4 101.9,302.2 102.2,294.4 102.5,301.7 102.8,294.4 103.1,301.3 103.4,294.9 103.7,302.6 104.0,294.1 104.3,301.9 104.6,294.8 104.9,301.6 105.2,294.8 105.5,302.4 105.8,294.3 106.1,302.0 106.4,294.6 106.7,302.3 107.0,294.6 107.3,301.9 107.6,294.4 107.9,301.6 108.2,294.8 108.5,301.5 108.8,295.3 109.1,301.7 109.4,295.0 109.7,301.8 110.0,294.8 110.3,302.4 110.6,294.8 110.9,302.4 111.2,295.3 111.5,301.4 111.8,294.9 112.1,302.2 112.4,294.4 112.7,301.7 113.0,295.0 113.3,302.4 113.6,294.5 113.9,302.2 114.2,294.3 114.5,302.2 114.8,295.1 115.1,302.1 115.4,294.9 115.7,302.4 116.0,294.8 116.3,301.4 116.6,294.6 116.9,301.6 117.2,294.3 117.5,301.7 117.8,295.1 118.1,301.7 118.4,294.6 118.7,301.6 119.0,295.3 119.3,301.4 119.6,294.9 119.9,301.6 120.2,295.1 120.5,301.6 120.8,294.4 121.1,301.3 121.4,294.9 121.7,301.3 122.0,294.3 122.3,302.2 122.6,294.9 122.9,301.7 123.2,294.6 123.5,302.3 123.8,294.7 124.1,302.5 124.4,294.3 124.7,301.7 125.0,295.4 125.3,302.5 125.6,294.2 125.9,302.4 126.2,295.0 126.5,301.2 126.8,295.0 127.1,301.4 127.4,295.3 127.7,304.0 128.0,295.1 128.3,301.9 128.6,294.8 128.9,301.4 129.2,294.3 129.5,302.1 129.8,295.3 130.1,301.3 130.4,295.3 130.7,301.2 131.0,294.9 131.3,302.3 131.6,294.5 131.9,302.4 132.2,295.3 132.5,302.0 132.8,294.9 133.1,301.7 133.4,294.9 133.7,302.2 134.0,294.8 134.3,302.2 134.6,295.1 134.9,302.1 135.2,295.4 135.5,301.4 135.8,294.7 136.1,302.0 136.4,294.5 136.7,301.2 137.0,294.3 137.3,302.4 137.6,295.3 137.9,301.9 138.2,294.2 138.5,302.4 138.8,295.1 139.1,302.3 139.4,295.1 139.7,301.9 140.0,294.9 140.3,301.8 140.6,295.3 140.9,301.5 141.2,295.2 141.5,301.9 141.8,294.7 142.1,301.4 142.4,294.5 142.7,301.8 143.0,295.0 143.3,301.5 143.6,294.8 143.9,301.8 144.2,295.0 144.5,302.0 144.8,295.1 145.1,302.0 145.4,294.5 145.7,301.4 146.0,293.3 146.3,301.4 146.6,295.0 146.9,302.1 147.2,294.9 147.5,303.7 147.8,295.3 148.1,302.0 148.4,295.4 148.7,302.4 149.0,294.8 149.3,302.4 149.6,295.0 149.9,302.4 150.2,294.5 150.5,302.0 150.8,294.7 151.1,301.4 151.4,294.5 151.7,302.0 152.0,294.9 152.3,301.7 152.6,294.9 152.9,301.5 153.2,294.3 153.5,302.4 153.8,295.4 154.1,301.7 154.4,295.3 154.7,301.9 155.0,294.7 155.3,302.1 155.6,295.4 155.9,301.3 156.2,295.0 156.5,302.0 156.8,294.2 157.1,301.9 157.4,294.5 157.7,301.3 158.0,294.6 158.3,302.4 158.6,295.0 158.9,302.0 159.2,294.4 159.5,302.4 159.8,294.4 160.1,301.8 160.4,295.4 160.7,303.9 161.0,294.1 161.3,302.3 161.6,294.7 161.9,301.7 162.2,294.4 162.5,301.2 162.8,294.1 163.1,302.1 163.4,293.6 163.7,302.2 164.0,294.9 164.3,301.3 164.6,295.4 164.9,302.2 165.2,294.8 165.5,303.2 165.8,294.7 166.1,302.4 166.4,294.9 166.7,301.7 167.0,294.7 167.3,301.7 167.6,294.2 167.9,302.0 168.2,294.6 168.5,303.0 168.8,294.1 169.1,301.9 169.4,294.8 169.7,301.7 170.0,295.1 170.3,302.4 170.6,293.9 170.9,302.3 171.2,294.7 171.5,302.1 171.8,294.5 172.1,302.3 172.4,294.6 172.7,301.9 173.0,294.2 173.3,301.7 173.6,294.2 173.9,302.0 174.2,295.3 174.5,302.0 174.8,294.1 175.1,301.7 175.4,294.4 175.7,301.6 176.0,295.0 176.3,302.0 176.6,294.9 176.9,302.5 177.2,294.9 177.5,301.9 177.8,294.6 178.1,302.4 178.4,294.5 178.7,301.2 179.0,295.3 179.3,301.6 179.6,294.5 179.9,302.3 180.2,295.3 180.5,301.7 180.8,294.8 181.1,302.0 181.4,293.7 181.7,301.8 182.0,294.1 182.3,302.0 182.6,295.1 182.9,301.4 183.2,294.3 183.5,302.1 183.8,295.1 184.1,301.9 184.4,294.3 184.7,301.4 185.0,294.4 185.3,301.5 185.6,295.1 185.9,301.9 186.2,295.2 186.5,301.8 186.8,295.2 187.1,302.1 187.4,294.3 187.7,302.2 188.0,295.2 188.3,301.2 188.6,294.4 188.9,301.4 189.2,292.2 189.5,301.6 189.8,294.8 190.1,302.4 190.4,294.4 190.7,301.8 191.0,295.4 191.3,301.8 191.6,294.4 191.9,302.2 192.2,295.4 192.5,301.4 192.8,295.3 193.1,352.6 193.4,344.1 193.7,353.2 194.0,343.8 194.3,353.0 194.6,343.0 194.9,352.1 195.2,344.2 195.5,352.0 195.8,343.3 196.1,353.6 196.4,343.1 196.7,353.5 197.0,343.9 197.3,353.3 197.6,342.9 197.9,353.2 198.2,342.9 198.5,353.0 198.8,343.7 199.1,352.9 199.4,344.0 199.7,353.4 200.0,342.7 200.3,352.4 200.6,342.6 200.9,352.0 201.2,343.2 201.5,352.2 201.8,344.0 202.1,352.6 202.4,343.0 202.7,352.4 203.0,343.0 203.3,352.1 203.6,341.0 203.9,352.5 204.2,342.8 204.5,352.3 204.8,342.6 205.1,353.3 205.4,343.9 205.7,352.9 206.0,343.2 206.3,352.7 206.6,343.4 206.9,352.0 207.2,343.6 207.5,352.8 207.8,343.7 208.1,352.4 208.4,344.0 208.7,353.5 209.0,343.9 209.3,352.0 209.6,342.3 209.9,353.1 210.2,341.9 210.5,352.5 210.8,343.9 211.1,352.3 211.4,343.8 211.7,353.3 212.0,343.5 212.3,353.3 212.6,342.4 212.9,353.3 213.2,343.2 213.5,352.8 213.8,341.9 214.1,353.4 214.4,344.0 214.7,352.7 215.0,343.1 215.3,352.2 215.6,342.9 215.9,352.6 216.2,342.6 216.5,353.4 216.8,344.1 217.1,352.1 217.4,342.9 217.7,352.2 218.0,344.1 218.3,353.4 218.6,343.7 218.9,353.1 219.2,342.6 219.5,352.8 219.8,343.3 220.1,352.3 220.4,344.2 220.7,352.5 221.0,344.1 221.3,352.2 221.6,343.7 221.9,353.0 222.2,343.0 222.5,353.6 222.8,343.0 223.1,351.9 223.4,343.5 223.7,352.5 224.0,344.0 224.3,352.3 224.6,343.9 224.9,352.6 225.2,342.5 225.5,351.9 225.8,342.5 226.1,353.2 226.4,342.5 226.6,302.0 226.9,294.9 227.2,302.1 227.5,294.4 227.8,301.6 228.1,295.4 228.4,302.4 228.7,295.3 229.0,302.1 229.3,294.9 229.6,302.3 229.9,294.5 230.2,301.2 230.5,295.1 230.8,301.4 231.1,294.5 231.4,304.7 231.7,294.7 232.0,301.5 232.3,294.3 232.6,301.3 232.9,295.1 233.2,301.8 233.5,295.2 233.8,301.3 234.1,294.7 234.4,301.5 234.7,294.2 235.0,301.2 235.3,295.3 235.6,302.0 235.9,295.0 236.2,302.0 236.5,294.9 236.8,301.3 237.1,294.6 237.4,302.0 237.7,294.8 238.0,301.8 238.3,295.2 238.6,302.0 238.9,295.2 239.2,301.6 239.5,294.7 239.8,303.4 240.1,295.4 240.4,301.6 240.7,294.2 241.0,301.4 241.3,295.4 241.6,301.3 241.9,294.6 242.2,302.4 242.5,294.4 242.8,302.4 243.1,294.3 243.4,302.1 243.7,294.7 244.0,302.2 244.3,294.4 244.6,302.1 244.9,294.5 245.2,301.3 245.5,294.1 245.8,302.0 246.1,294.3 246.4,302.3 246.7,295.3 247.0,301.5 247.3,294.3 247.6,301.4 247.9,294.3 248.2,302.5 248.5,294.6 248.8,301.7 249.1,295.1 249.4,301.8 249.7,294.6 250.0,302.2 250.3,294.9 250.6,302.1 250.9,294.3 251.2,301.7 251.5,292.7 251.8,301.9 252.1,295.3 252.4,302.2 252.7,294.1 253.0,302.3 253.3,295.2 253.6,302.3 253.9,295.1 254.2,301.7 254.5,294.5 254.8,301.3 255.1,295.4 255.4,302.3 255.7,295.1 256.0,301.4 256.3,295.0 256.6,301.7 256.9,294.3 257.2,301.9 257.5,295.1 257.8,302.4 258.1,294.8 258.4,301.8 258.7,293.2 259.0,301.9 259.3,294.7 259.6,301.3 259.9,294.3 260.2,301.4 260.5,295.2 260.8,301.3 261.1,295.0 261.4,302.0 261.7,294.6 262.0,302.5 262.3,294.6 262.6,301.5 262.9,294.2 263.2,301.2 263.5,295.2 263.8,301.4 264.1,294.4 264.4,302.0 264.7,294.6 265.0,301.6 265.3,295.1 265.6,302.2 265.9,294.5 266.2,301.8 266.5,293.3 266.8,302.2 267.1,294.2 267.4,301.7 267.7,294.3 268.0,302.2 268.3,294.8 268.6,302.0 268.9,294.2 269.2,302.4 269.5,294.2 269.8,301.3 270.1,295.0 270.4,302.3 270.7,294.8 271.0,302.2 271.3,294.7 271.6,301.9 271.9,294.9 272.2,301.7 272.5,294.7 272.8,301.7 273.1,294.5 273.4,301.7 273.7,294.3 274.0,302.4 274.3,295.4 274.6,301.9 274.9,294.3 275.2,304.3 275.5,293.5 275.8,302.5 276.1,294.4 276.4,301.5 276.7,294.4 277.0,301.7 277.3,295.1 277.6,301.5 277.9,294.4 278.2,302.2 278.5,294.3 278.8,301.2 279.1,294.9 279.4,301.6 279.7,294.1 280.0,302.1 280.3,294.9 280.6,301.8 280.9,294.7 281.2,301.7 281.5,294.3 281.8,301.7 282.1,294.2 282.4,301.5 282.7,294.3 283.0,301.7 283.3,295.1 283.6,301.4 283.9,294.4 284.2,301.4 284.5,295.0 284.8,301.5 285.1,294.2 285.4,301.8 285.7,295.0 286.0,302.3 286.3,295.0 286.6,301.8 286.9,294.4 287.2,302.4 287.5,295.4 287.8,301.9 288.1,294.3 288.4,301.9 288.7,295.3 289.0,302.0 289.3,292.8 289.6,302.1 289.9,294.7 290.2,302.4 290.5,294.9 290.8,302.2 291.1,294.4 291.4,302.0 291.7,293.5 292.0,302.1 292.3,294.8 292.6,302.5 292.9,295.0 293.2,302.0 293.5,294.3 293.8,301.9 294.1,294.5 294.4,301.8 294.7,295.4 295.0,301.4 295.3,294.5 295.6,301.6 295.9,295.4 296.2,301.3 296.5,295.2 296.8,301.7 297.1,294.3 297.4,301.4 297.7,294.7 298.0,302.1 298.3,294.5 298.6,301.5 298.9,294.4 299.2,301.9 299.5,295.4 299.8,301.6 300.1,294.3 300.4,301.7 300.7,295.3 301.0,301.2 301.3,294.6 301.6,302.4 301.9,294.1 302.2,301.4 302.5,294.5 302.8,301.2 303.1,294.8 303.4,302.2 303.7,295.3 304.0,302.1 304.3,294.6 304.6,302.2 304.9,294.3 305.2,302.0 305.5,294.4 305.8,301.8 306.1,294.9 306.4,302.4 306.7,295.2 307.0,301.4 307.3,295.4 307.6,301.7 307.9,295.2 308.2,303.2 308.5,295.2 308.8,301.6 309.1,295.3 309.4,302.1 309.7,295.4 310.0,301.2 310.3,294.4 310.6,303.0 310.9,295.1 311.2,302.5 311.5,294.5 311.8,301.9 312.1,294.5 312.4,301.2 312.7,295.1 313.0,301.8 313.3,294.4 313.6,301.7 313.9,294.8 314.2,302.2 314.5,294.6 314.8,301.4 315.1,294.4 315.4,301.7 315.7,295.0 316.0,301.6 316.3,294.3 316.6,302.7 316.9,294.9 317.2,301.2 317.5,295.2 317.8,301.6 318.1,295.0 318.4,301.3 318.7,295.3 319.0,301.9 319.3,295.4 319.5,343.1 319.8,336.1 320.1,342.8 320.4,335.4 320.7,344.0 321.0,335.0 321.3,343.8 321.6,334.9 321.9,344.1 322.2,336.0 322.5,343.1 322.8,335.8 323.1,343.4 323.4,335.1 323.7,343.2 324.0,335.3 324.3,343.5 324.6,335.3 325.0,296.7 325.3,294.8 325.6,296.7 325.9,295.2 326.2,296.8 326.5,294.9 326.8,296.7 327.1,295.1 327.4,296.8 327.7,295.0 328.0,296.6 328.3,294.9 328.6,296.7 328.9,294.9 329.2,296.8 329.5,295.2 329.8,296.6 330.1,294.7 330.4,296.8 330.7,294.9 331.0,296.8 331.3,295.1 331.6,296.8 331.9,295.0 332.2,296.8 332.5,295.2 332.8,296.7 333.1,295.1 333.4,296.8 333.7,295.0 334.0,296.7 334.3,295.0 334.6,296.7 334.9,295.1 335.2,296.6 335.5,295.0 335.8,296.7 336.1,295.1 336.4,296.8 336.8,343.3 337.1,334.8 337.4,344.1 337.7,335.7 338.0,343.7 338.3,335.6 338.6,343.6 338.9,335.3 339.2,343.2 339.5,334.7 339.8,343.3 340.1,335.1 340.4,343.8 340.7,334.9 341.0,343.0 341.3,335.1 341.6,344.2 342.1,297.4 342.4,343.6 342.7,335.0 343.0,343.8 343.3,335.0 343.6,344.0 343.9,335.3 344.2,343.1 344.5,335.1 344.8,343.5 345.1,334.1 345.4,343.8 345.7,334.8 346.0,344.2 346.3,334.5 346.6,343.9 346.9,334.6 347.2,343.0 347.5,335.7 347.8,344.2 348.1,334.8 348.4,344.1 348.7,335.1 349.0,343.4 349.4,301.4 349.7,344.2 350.0,334.6 350.3,346.8 350.6,338.2 350.9,346.6 351.2,337.8 351.5,347.1 351.8,338.3 352.1,346.5 352.4,337.3 352.7,346.4 353.0,338.1 353.3,346.5 353.6,337.5 353.9,346.0 354.2,337.8 354.5,346.0 354.8,337.4 355.1,347.0 355.4,337.7 355.7,348.1 356.0,337.1 356.3,349.0 356.6,337.9 357.0,298.8 357.3,294.8 357.6,298.8 357.9,294.6 358.2,298.9 358.5,294.8 358.8,299.1 359.1,294.1 359.4,298.8 359.7,294.1 360.1,346.4 360.4,338.6 360.7,347.6 361.0,337.9 361.3,347.1 361.6,338.4 361.9,347.9 362.2,338.6 362.5,347.5 362.8,338.5 363.1,347.6 363.4,336.2 363.7,346.9 364.0,337.2 364.3,347.7 364.6,337.6 364.9,346.6 365.2,337.2 365.5,347.0 365.8,337.4 366.1,346.5 366.4,337.8 366.7,346.3 367.0,336.8 367.3,347.4 367.7,287.3 368.0,348.6 368.3,338.7 368.6,347.5 368.9,338.2 369.2,346.7 369.5,338.8 369.8,346.6 370.1,337.2 370.4,346.6 370.7,338.2 371.0,346.7 371.3,337.2 371.6,346.6 371.9,338.7 372.2,348.7 372.5,338.0 372.8,346.5 373.1,338.8 373.4,346.3 373.7,337.2 374.0,346.7 374.3,338.8 374.6,347.1 374.9,338.1 375.2,347.0 375.5,338.8 375.8,347.7 376.1,337.2 376.4,348.0 376.7,338.4 377.0,346.5 377.3,337.5 377.6,347.6 377.9,337.4 378.2,346.8 378.5,337.3 378.8,346.7 379.1,338.5 379.4,346.5 379.7,337.5 380.0,348.0 380.3,338.3 380.6,347.5 380.9,337.7 381.2,347.8 381.5,337.7 381.8,346.7 382.1,338.1 382.4,347.3 382.7,337.4 383.0,347.5 383.3,338.2 383.6,346.7 383.9,337.3 384.2,346.7 384.5,337.6 384.8,347.0 385.1,337.6 385.4,346.9 385.7,338.2 386.0,347.4 386.3,338.3 386.6,347.3 386.9,337.4 387.2,347.2 387.5,337.5 387.8,347.2 388.1,337.5 388.4,347.9 388.7,338.0 389.0,348.7 389.3,335.2 389.6,346.8 389.9,338.8 390.2,346.9 390.5,337.5 390.8,346.5 391.1,337.3 391.4,347.4 391.7,338.4 392.0,347.7 392.3,338.6 392.6,346.3 392.9,337.9 393.2,347.3 393.5,338.0 393.8,347.6 394.1,337.2 394.4,346.6 394.7,338.4 395.2,296.4 395.5,345.5 395.8,336.3 396.1,345.2 396.4,336.1 396.7,345.0 397.0,336.8 397.3,345.2 397.6,336.1 397.9,344.5 398.2,296.4 398.6,344.2 398.9,337.1 399.1,297.3 399.4,295.2 399.7,297.0 400.0,295.6 400.3,297.2 400.6,295.4 400.9,297.3 401.2,295.6 401.5,297.0 401.8,295.4 402.1,297.1 402.4,295.5 402.7,297.0 403.0,295.4 403.3,345.8 403.6,336.1 403.9,344.7 404.2,335.7 404.5,346.0 404.8,335.9 405.1,344.8 405.3,297.2 405.6,295.5 405.9,297.2 406.2,295.6 406.5,297.2 406.8,295.5 407.1,297.3 407.4,295.3 407.8,345.8 408.1,335.9 408.4,345.3 408.7,336.2 409.0,346.1 409.3,336.1 409.6,345.2 409.9,335.5 410.2,346.1 410.5,337.1 410.8,297.0 411.1,295.6 411.4,297.0 411.7,295.5 412.0,297.1 412.3,295.4 412.6,297.2 412.9,295.4 413.2,297.1 413.5,295.4 413.8,297.1 414.0,341.6 414.3,333.5 414.6,340.9 414.9,333.1 415.2,340.7 415.5,333.3 415.8,341.6 416.1,333.7 416.5,297.4 416.8,340.9 417.1,333.2 417.4,340.4 417.8,298.4 418.1,341.0 418.4,333.5 418.7,340.7 419.0,333.6 419.3,341.3 419.6,333.3 419.9,340.4 420.2,333.5 420.5,340.4 420.8,333.5 421.1,341.3 421.4,333.6 421.7,341.2 422.0,332.8 422.3,341.6 422.6,333.3 422.9,340.4 423.2,333.1 423.5,340.3 423.8,333.8 424.1,340.8 424.4,333.3 424.7,340.9 425.0,333.9 425.3,341.0 425.6,330.6 425.9,341.0 426.2,333.3 426.5,341.0 426.8,331.6 427.1,341.4 427.4,333.5 427.7,340.8 428.0,332.7 428.3,341.4 428.6,332.6 428.9,340.2 429.2,333.4 429.5,340.4 429.8,332.6 430.1,341.0 430.4,333.8 430.7,340.8 431.0,333.3 431.3,340.4 431.6,332.8 431.9,342.8 432.2,333.9 432.5,340.6 432.8,333.5 433.1,340.4 433.4,332.8 433.7,340.9 434.1,295.4 434.4,341.5 434.7,333.3 435.0,340.8 435.3,344.1 435.6,335.7 435.9,345.3 436.2,336.9 436.5,345.1 436.8,336.2 437.1,347.2 437.4,336.8 437.7,345.2 438.0,336.9 438.3,344.5 438.6,336.2 438.9,344.9 439.2,335.3 439.5,344.9 439.8,334.8 440.1,344.7 440.4,335.5 440.7,344.1 441.0,336.0 441.3,345.9 441.6,336.8 441.9,344.3 442.2,336.5 442.5,344.4 442.8,335.8 443.1,343.8 443.4,336.7 443.7,344.2 444.0,336.8 444.3,344.6 444.6,336.0 444.9,344.0 445.2,336.0 445.5,344.4 445.8,336.5 446.1,345.0 446.4,335.6 446.7,344.3 447.0,335.4 447.3,345.3 447.6,336.1 447.9,343.8 448.2,336.8 448.5,343.9 448.8,336.0 449.1,299.1 449.4,294.4 449.7,299.0 450.0,294.3 450.3,298.9 450.6,295.0 450.9,298.8 451.2,294.8 451.5,298.8 451.8,295.0 452.1,298.5 452.4,294.9 452.7,299.0 453.0,294.4 453.3,298.9 453.6,294.3 453.9,299.2 454.2,294.7 454.5,298.9 454.8,294.8 455.1,298.7 455.4,294.9 455.7,298.8 456.0,295.0 456.3,298.5 456.6,294.1 456.9,298.8 457.2,294.4 457.5,298.8 457.8,294.6 458.1,298.8 458.4,294.3 458.7,298.9 459.1,347.4 459.4,339.4 459.7,346.7 460.0,338.7 460.3,347.2 460.6,339.0 460.9,347.0 461.2,339.4 461.5,348.4 461.8,337.9 462.1,347.7 462.4,339.2 462.7,346.6 463.0,339.3 463.3,347.3 463.6,339.2 463.9,347.0 464.2,303.2 464.5,346.6 464.8,338.0 465.1,348.2 465.4,339.0 465.7,347.0 466.0,339.0 466.3,347.8 466.6,339.3 466.9,348.0 467.2,338.8 467.5,348.2 467.8,338.2 468.1,347.9 468.4,339.1 468.7,347.6 469.0,338.5 469.3,347.2 469.6,338.9 469.9,348.2 470.2,337.9 470.5,347.9 470.8,338.3 471.1,347.7 471.4,338.0 471.7,349.4 472.0,338.0 472.3,348.0 472.6,338.2 472.9,347.0 473.2,339.3 473.5,346.7 473.8,339.0 474.1,349.9 474.4,338.4 474.7,346.6 475.0,338.3 475.3,346.8 475.6,339.4 475.9,347.1 476.2,338.9 476.7,306.4 477.0,346.8 477.3,339.0 477.6,348.0 477.9,338.4 478.2,347.8 478.5,338.4 478.8,350.4 479.1,337.9 479.4,347.6 479.7,338.8 480.0,346.7 480.3,339.2 480.6,346.9 480.9,338.5 481.2,347.9 481.5,337.9 481.8,347.4 482.1,339.0 482.4,347.2 482.7,338.8 483.0,347.1 483.3,338.1 483.6,346.7 483.9,338.4 484.2,347.0 484.5,338.6 484.8,347.9 485.1,339.4 485.4,347.3 485.7,338.7 486.0,346.7 486.3,338.0 486.6,348.2 486.9,338.3 487.2,347.7 487.5,338.2 487.8,347.3 488.1,339.5 488.4,347.6 488.7,338.1 489.0,347.8 489.3,339.0 489.6,347.0 489.9,338.1 490.2,348.0 490.5,338.7 490.8,347.0 491.1,339.3 491.4,347.0 491.7,339.3 492.0,347.1 492.3,338.9 492.6,347.3 492.9,338.6 493.2,347.5 493.5,338.9 493.8,347.3 494.1,338.8 494.4,348.2 494.7,336.3 495.0,347.7 495.3,338.2 495.6,348.1 495.9,339.2 496.2,293.9 496.5,348.2 496.8,338.6 497.1,347.8 497.4,339.0 497.7,347.7 498.0,338.3 498.3,347.7 498.6,338.4 498.9,347.3 499.2,338.7 499.5,347.5 499.8,338.5 500.1,348.2 500.4,338.4 500.7,347.9 501.0,339.1 501.3,347.6 501.6,338.1 501.9,347.0 502.2,339.1 502.5,348.2 502.8,338.5 503.1,348.1 503.4,338.1 503.7,346.7 504.0,338.7 504.3,346.9 504.6,338.7 504.9,348.0 505.2,339.2 505.5,346.8 505.8,338.2 506.1,347.2 506.4,338.5 506.7,347.1 507.0,339.0 507.3,347.5 507.6,339.3 507.9,347.4 508.2,338.3 508.5,347.0 508.8,338.7 509.1,347.0 509.4,337.9 509.7,347.2 510.0,338.7 510.3,348.3 510.6,337.9 510.9,346.7 511.2,338.2 511.5,346.7 511.8,339.3 512.1,347.9 512.4,338.8 512.7,348.2 513.0,339.0 513.3,347.3 513.6,338.1 513.9,347.3 514.2,338.3 514.5,347.7 514.8,338.3 515.1,347.9 515.4,336.7 515.7,347.5 516.0,338.9 516.3,347.4 516.6,339.2 516.9,346.6 517.2,338.0 517.5,348.1 517.8,338.9 518.1,347.9 518.4,336.3 518.7,346.6 519.0,338.3 519.3,347.2 519.6,339.3 519.9,346.9 520.2,339.3 520.5,347.2 520.8,338.3 521.1,347.8 521.4,338.3 521.7,347.1 522.0,339.4 522.3,353.5 522.6,345.0 522.9,353.5 523.2,344.1 523.5,353.7 523.8,345.1 524.1,352.4 524.4,344.9 524.7,301.4 525.0,294.3 525.3,301.3 525.6,295.3 525.9,301.5 526.2,295.0 526.5,301.3 526.8,294.6 527.1,301.8 527.4,295.2 527.7,303.6 528.0,294.2 528.3,301.4 528.6,294.8 528.9,302.2 529.2,294.1 529.5,302.3 529.8,295.4 530.1,302.2 530.4,294.5 530.7,301.7 531.0,294.9 531.3,301.3 531.6,294.2 531.9,301.5 532.2,295.2 532.5,301.3 532.8,294.1 533.1,302.1 533.4,294.3 533.7,302.4 534.0,294.5 534.3,302.2 534.6,295.4 534.9,302.1 535.2,294.4 535.5,301.8 535.8,294.1 536.1,301.2 536.4,295.4 536.7,303.5 537.0,295.4 537.3,301.8 537.6,294.4 537.9,301.2 538.2,295.4 538.5,301.5 538.8,295.3 539.1,301.6 539.4,294.2 539.7,301.4 540.0,295.0 540.3,302.0 540.6,294.5 540.9,301.2 541.2,294.4 541.5,301.3 541.8,294.7 542.1,301.2 542.4,294.2 542.7,302.0 543.0,294.6 543.3,301.5 543.6,295.1 543.9,301.8 544.2,294.5 544.5,301.7 544.8,294.2 545.1,301.8 545.4,294.5 545.7,301.6 546.0,294.8 546.3,302.1 546.6,295.2 546.9,301.2 547.2,295.3 547.5,301.8 547.8,295.2 548.1,301.2 548.4,294.4 548.7,301.9 549.0,295.1 549.3,301.2 549.6,294.2 549.9,301.8 550.2,295.1 550.5,302.9 550.8,294.8 551.1,301.2 551.4,294.4 551.7,302.4 552.0,294.5 552.3,302.1 552.6,295.0 552.9,301.2 553.2,294.4 553.5,301.7 553.8,294.6 554.1,301.8 554.4,294.3 554.7,301.2 555.0,292.2 555.3,302.5 555.6,293.4 555.9,302.1 556.2,295.4 556.5,302.2 556.8,294.6 557.1,301.4 557.4,295.2 557.7,301.8 558.0,294.9 558.3,301.7 558.6,294.4 558.9,301.2 559.2,295.2 559.5,301.6 559.8,295.1 560.1,301.6 560.4,293.4 560.7,303.0 561.0,294.4 561.3,302.1 561.6,295.1 561.9,302.5 562.2,294.3 562.5,302.1 562.8,294.4 563.1,302.1 563.4,294.3 563.7,302.1 564.0,294.8 564.3,302.1 564.6,295.3 564.9,302.4 565.2,295.0 565.5,302.4 565.8,295.3 566.1,301.8 566.4,294.6 566.7,301.7 567.0,295.3 567.3,301.6 567.6,294.3 567.9,302.5 568.2,294.4 568.5,302.1 568.8,294.7 569.1,301.9 569.4,294.1 569.7,303.3 570.0,294.8 570.3,304.5 570.6,294.1 570.9,301.2 571.2,295.3 571.5,301.9 571.8,294.5 572.1,301.9 572.4,294.1 572.7,302.3 573.0,294.2 573.3,302.2 573.6,295.2 573.9,301.8 574.2,294.7 574.5,301.9 574.8,294.4 575.1,301.6 575.4,294.2 575.7,301.5 576.0,294.7 576.3,302.0 576.6,295.2 576.9,302.1 577.2,295.3 577.5,302.3 577.8,294.1 578.1,301.4 578.4,294.8 578.7,301.9 579.0,295.4 579.3,301.3 579.6,295.3 579.9,301.3 580.2,294.5 580.5,302.2 580.8,295.2 581.1,302.5 581.4,294.3 581.7,301.6 582.0,295.4 582.3,302.2 582.6,295.4 582.9,301.6 583.2,295.4 583.5,301.8 583.8,295.1 584.1,301.9 584.4,294.8 584.7,302.0 585.0,294.2 585.3,301.3 585.6,294.7 585.9,301.5 586.2,294.9 586.5,301.3 586.8,294.4 587.1,301.4 587.4,294.5 587.7,302.1 588.0,295.1 588.3,301.9 588.6,294.4 588.9,301.7 589.2,294.4 589.5,302.0 589.8,295.3 590.1,301.7 590.4,294.6 590.7,301.6 591.0,294.6 591.3,302.3 591.6,294.5 591.9,302.0 592.2,294.4 592.5,302.2 592.8,295.3 593.1,302.4 593.4,294.6 593.7,301.2 594.0,295.0 594.3,301.4 594.6,294.2 594.9,301.7 595.2,294.9 595.5,301.6 595.8,294.7 596.1,303.1 596.4,294.1 596.7,302.0 597.0,294.5 597.3,302.4 597.6,294.8 597.9,301.2 598.2,295.3 598.5,301.9 598.8,294.8 599.1,301.5 599.4,293.0 599.7,301.7 600.0,295.2 600.3,302.3 600.5,353.2 600.8,342.9 601.1,353.3 601.4,343.7 601.7,353.1 602.0,343.1 602.3,353.5 602.6,342.6 602.9,352.8 603.2,342.7 603.5,352.6 603.8,342.9 604.1,352.0 604.4,343.7 604.7,351.8 605.0,343.7 605.3,352.4 605.6,343.1 605.9,352.9 606.2,342.6 606.5,352.5 606.8,343.0 607.1,352.1 607.4,343.9 607.7,353.1 608.0,343.0 608.3,354.3 608.6,343.6 608.9,352.6 609.2,344.0 609.5,352.5 609.8,344.2 610.1,352.9 610.4,343.1 610.7,352.1 611.0,343.7 611.3,353.5 611.6,344.0 611.9,353.5 612.2,343.8 612.5,352.9 612.8,343.6 613.1,352.6 613.4,343.9 613.7,353.5 614.0,343.7 614.3,352.4 614.6,343.3 614.9,352.6 615.2,343.8 615.5,353.1 615.8,343.3 616.1,352.9 616.4,343.8 616.7,353.0 617.0,343.1 617.3,352.3 617.6,344.0 617.9,352.5 618.2,343.5 618.5,353.3 618.8,342.8 619.1,352.7 619.4,343.7 619.7,352.0 620.0,343.3 620.3,351.9 620.6,343.0 620.9,352.4 621.2,343.8 621.5,352.2 621.8,343.7 622.1,352.2 622.4,344.1 622.7,353.5 623.0,344.0 623.3,352.1 623.6,342.7 623.9,352.0 624.2,343.3 624.5,352.6 624.8,343.4 625.1,353.1 625.4,343.4 625.7,353.2 626.0,343.2 626.3,353.1 626.6,343.1 626.9,352.8 627.2,343.7 627.5,353.5 627.8,341.6 628.1,351.9 628.4,343.0 628.7,352.9 629.0,343.2 629.3,352.2 629.6,344.0 629.9,353.7 630.2,343.3 630.5,353.4 630.8,343.8 631.1,352.8 631.4,344.0 631.7,352.4 632.0,342.6 632.3,352.3 632.6,342.8 632.9,352.8 633.2,343.9 633.5,352.9 633.8,343.8 634.1,352.7 634.4,302.2 634.7,294.5 635.0,302.2 635.3,295.3 635.6,302.1 635.9,295.1 636.2,302.1 636.5,294.6 636.8,303.2 637.1,294.5 637.4,301.2 637.7,294.4 638.0,301.2 638.3,294.4 638.6,301.2 638.9,295.4 639.2,301.6 639.5,295.2 639.8,302.1 640.1,295.4 640.4,301.6 640.7,295.0 641.0,301.8 641.3,295.3 641.6,301.6 641.9,295.3 642.2,301.8 642.5,294.2 642.8,302.4 643.1,294.4 643.4,301.8 643.7,295.4 644.0,301.8 644.3,293.4 644.6,301.2 644.9,294.3 645.2,301.7 645.5,295.2 645.8,301.2 646.1,295.4 646.4,301.7 646.7,295.0 647.0,302.5 647.3,294.7 647.6,302.2 647.9,295.0 648.2,302.1 648.5,294.3 648.8,301.3 649.1,294.3 649.4,302.1 649.7,295.1 650.0,302.5 650.3,295.2 650.6,302.0 650.9,295.1 651.2,301.5 651.5,295.1 651.8,302.0 652.1,294.7 652.4,301.4 652.7,294.1 653.0,302.0 653.3,295.3 653.6,303.4 653.9,294.2 654.2,301.8 654.5,294.5 654.8,301.8 655.1,295.0 655.4,301.5 655.7,295.1 656.0,301.3 656.3,295.1 656.6,302.5 656.9,294.6 657.2,301.2 657.5,295.3 657.8,302.1 658.1,294.7 658.4,301.8 658.7,294.2 659.0,301.2 659.3,294.8 659.6,301.3 659.9,294.5 660.2,302.3 660.5,295.0 660.8,301.3 661.1,294.7 661.4,302.2 661.7,294.8 662.0,301.5 662.3,294.4 662.6,301.5 662.9,295.1 663.2,301.5 663.5,295.3 663.8,301.3 664.1,294.6 664.4,302.3 664.7,294.2 665.0,302.2 665.3,295.3 665.6,302.4 665.9,295.4 666.2,301.8 666.5,294.4 666.8,301.5 667.1,294.4 667.4,302.4 667.7,295.0 668.0,301.2 668.3,294.2 668.6,301.3 668.9,295.4 669.2,301.2 669.5,294.8 669.8,301.6 670.1,294.5 670.4,302.0 670.7,294.3 671.0,301.5 671.3,294.5 671.6,302.1 671.9,294.6 672.2,302.0 672.5,294.3 672.8,302.2 673.1,295.1 673.4,301.7 673.7,294.1 674.0,301.4 674.3,294.3 674.6,302.3 674.9,294.9 675.2,302.2 675.5,295.0 675.8,302.2 676.1,295.1 676.4,301.3 676.7,294.4 677.0,301.6 677.3,295.3 677.6,301.8 677.9,294.2 678.2,301.4 678.5,295.2 678.8,301.4 679.1,294.8 679.4,302.2 679.7,294.4 680.0,302.1 680.3,295.0 680.6,304.4 680.9,295.4 681.2,301.9 681.5,295.2 681.8,302.5 682.1,295.3 682.4,301.3 682.7,294.5 683.0,302.6 683.3,294.6 683.6,302.0 683.9,294.5 684.2,301.7 684.5,295.3 684.8,301.8 685.1,295.2 685.4,302.2 685.7,295.0 686.0,301.4 686.3,295.4 686.6,302.3 686.9,295.4 687.2,301.2 687.5,294.6 687.8,301.3 688.1,295.0 688.4,302.5 688.7,294.5 689.0,301.2 689.3,295.3 689.6,301.9 689.9,295.3 690.2,302.3 690.5,294.3 690.8,302.3 691.1,294.1 691.4,302.3 691.7,294.6 692.0,301.5 692.3,294.3 692.6,302.0 692.9,295.0 693.2,301.3 693.5,294.7 693.8,301.2 694.1,294.7 694.4,302.2 694.7,294.0 695.0,301.5 695.3,293.5 695.6,301.8 695.9,295.1 696.2,301.5 696.5,294.3 696.8,302.3 697.1,294.7 697.4,301.3 697.7,294.9 698.0,301.4 698.3,295.4 698.6,301.3 698.9,294.1 699.2,301.6 699.5,295.3 699.8,301.2 700.1,295.1 700.4,301.4 700.7,294.5 701.0,302.2 701.3,294.4 701.6,301.3 701.9,295.3 702.2,301.8 702.5,294.4 702.8,302.4 703.1,294.9 703.4,302.3 703.7,292.9 704.0,301.2 704.3,295.0 704.6,301.7 704.9,295.0 705.2,302.5 705.5,294.7 705.8,301.3 706.1,294.1 706.4,301.2 706.7,293.4 707.0,301.6 707.3,294.1 707.6,301.6 707.9,294.5 708.2,302.3 708.5,295.4 708.8,301.6 709.1,294.6 709.4,301.6 709.7,294.6 710.0,301.9 710.3,294.4 710.6,302.4 710.9,294.7 711.2,301.6 711.5,294.7 711.8,304.3 712.1,295.1 712.4,301.9 712.7,295.2 713.0,301.2 713.3,294.8 713.6,301.6 713.9,294.4 714.2,301.2 714.5,295.0 714.8,302.5 715.1,294.6 715.4,301.6 715.7,294.5 716.0,304.0 716.3,295.2 716.6,301.7 716.9,294.6 717.2,302.1 717.5,295.2 717.8,302.2 718.1,295.1 718.4,301.6 718.7,293.8 719.0,301.3 719.3,294.6 719.6,301.2 719.9,295.4 720.2,301.6 720.5,295.3 720.8,301.8 721.1,295.1 721.4,301.2 721.7,295.2 722.0,302.4 722.3,294.8 722.6,301.4 722.9,294.6 723.2,302.4 723.5,295.4 723.8,301.7 724.1,294.1 724.4,302.2 724.7,295.4 725.0,302.2 725.3,295.4 725.6,301.7 725.9,295.3 726.2,301.7 726.5,295.1 726.8,302.1 727.1,295.0 727.4,301.7 727.7,294.1 728.0,302.5 728.3,294.8 728.6,302.0 728.9,295.4 729.2,302.3 729.5,295.4 729.8,302.0 730.1,295.2 730.4,301.5 730.7,294.9 731.0,301.8 731.3,294.2 731.6,301.4 731.9,295.2 732.2,301.2 732.5,294.4 732.8,301.6 733.1,294.4 733.4,301.7 733.7,294.7 734.0,301.3 734.3,294.8 734.6,302.4 734.9,294.9 735.2,302.4 735.5,294.9 735.8,302.0 736.1,294.3 736.4,301.7 736.7,295.1 737.0,301.9 737.3,294.7 737.6,301.8 737.9,295.3 738.2,301.2 738.5,294.3 738.8,302.5 739.1,295.3 739.4,302.1 739.7,294.5 740.0,301.7 740.3,294.4 740.6,302.4 740.9,294.6 741.2,301.7 741.5,294.9 741.8,301.6 742.1,295.0 742.4,302.1 742.7,294.8 743.0,302.1 743.3,294.5 743.6,301.7 743.9,294.3 744.2,301.4 744.5,295.3 744.8,301.5 745.1,294.9 745.4,301.8 745.7,294.6 746.0,301.6 746.3,294.3 746.6,301.7 746.9,295.1 747.2,301.9 747.5,293.7 747.8,302.4 748.1,295.4 748.4,302.5 748.7,294.5 749.0,302.0 749.3,295.4 749.6,301.4 749.9,295.1 750.2,301.4 750.5,294.3 750.8,301.4 751.1,295.4 751.4,301.3 751.7,294.5 752.0,301.8 752.3,294.1 752.6,301.4 752.9,294.1 753.2,302.0 753.5,294.9 753.8,302.2 754.1,294.8 754.4,302.3 754.7,295.3 755.0,302.3 755.3,294.5 755.6,301.3 755.9,294.8 756.2,301.3 756.5,295.4 756.8,301.6 757.1,294.8 757.4,301.5 757.7,294.8 758.0,301.7 758.3,294.4 758.6,301.6 758.9,295.3 759.2,302.1 759.5,294.7 759.8,301.2 760.1,294.8 760.4,301.7 760.7,294.6 761.0,301.4 761.3,295.4 761.6,301.8 761.9,294.2 762.2,301.7 762.5,294.2 762.8,301.3 763.1,294.5 763.4,302.5 763.7,294.6 764.0,302.1 764.3,294.6 764.6,301.8 764.9,294.5 765.2,302.4 765.5,294.6 765.8,302.4 766.1,294.5 766.4,302.1 766.7,294.8 767.0,301.4 767.3,295.1 767.6,302.5 767.9,294.3 768.2,301.3 768.5,294.2 768.8,301.9 769.1,295.1 769.4,302.2 769.7,294.6 770.0,301.8 770.3,295.0 770.6,302.3 770.9,294.6 771.2,302.3 771.5,294.3 771.8,301.5 772.1,294.3 772.4,304.7 772.7,294.9 773.0,302.2 773.3,294.8 773.6,302.3 773.9,341.2 774.2,332.6 774.5,340.3 774.8,333.5 775.1,340.2 775.4,331.0 775.7,341.0 776.0,332.9 776.3,340.6 776.7,296.4 776.9,342.9 777.2,333.1" fill="none" stroke="#000" stroke-width=".55" stroke-linejoin="round"/><path d="M119.0,298.3V304.7M121.7,294.1V298.3M124.4,298.3V307.5M126.5,292.6V298.3M61.2,298.3V304.7M117.5,298.3V306.6M119.0,293.8V298.3M124.9,298.3V307.7M161.6,298.3V304.7M69.5,298.3V304.2M154.9,298.3V304.9M156.5,293.6V298.3M94.1,298.3V307.1M96.9,291.9V298.3M63.1,298.3V304.7M58.8,298.3V304.9M70.9,298.3V305.9M73.1,291.9V298.3M83.4,298.3V302.6M85.5,294.1V298.3M67.2,298.3V305.3M113.1,298.3V304.8M68.4,298.3V305.8M70.6,291.7V298.3M63.0,298.3V305.7M76.0,298.3V304.1M192.2,298.3V303.3M185.8,298.3V303.9M61.5,298.3V304.6M136.4,298.3V306.9M138.1,291.9V298.3M135.6,298.3V305.1M317.6,298.3V305.8M320.2,293.3V298.3M266.9,298.3V303.8M256.9,298.3V303.1M236.6,298.3V306.9M239.1,292.1V298.3M272.8,298.3V306.5M275.2,293.0V298.3M248.3,298.3V307.9M261.3,298.3V307.3M288.4,298.3V303.5M250.9,298.3V302.9M243.0,298.3V307.8M282.8,298.3V302.7M284.2,293.1V298.3M283.2,298.3V307.9M240.0,298.3V305.7M241.2,292.7V298.3M291.0,298.3V303.0M291.7,298.3V306.8M591.5,298.3V303.5M582.8,298.3V307.4M532.6,298.3V302.9M538.1,298.3V306.1M540.7,293.5V298.3M526.2,298.3V303.6M567.0,298.3V304.7M568.9,291.7V298.3M565.2,298.3V307.8M568.2,291.9V298.3M565.9,298.3V305.5M593.1,298.3V303.0M565.7,298.3V304.3M579.0,298.3V303.2M559.1,298.3V305.3M642.2,298.3V305.9M756.3,298.3V303.9M735.7,298.3V306.0M639.9,298.3V305.9M728.6,298.3V304.8M730.0,292.6V298.3M660.0,298.3V303.0M699.9,298.3V305.5M702.4,293.3V298.3M743.1,298.3V302.6M716.5,298.3V308.0M750.0,298.3V303.2M666.9,298.3V306.9M668.3,293.8V298.3M651.5,298.3V307.8M686.4,298.3V306.7M707.0,298.3V304.6M667.5,298.3V304.0M662.2,298.3V305.0M638.0,298.3V303.2M642.9,298.3V304.0M718.5,298.3V303.8M720.1,293.3V298.3M745.5,298.3V308.0M759.5,298.3V307.7M762.0,298.3V307.9M763.7,293.5V298.3M718.4,298.3V305.3M619.5,345.3V322.6M380.0,340.8V332.6M387.5,340.8V329.9M506.0,340.8V335.3" fill="none" stroke="#000" stroke-width=".45" opacity=".75"/>
<text x="119.8" y="278.2" font-size="11.2" font-weight="bold" text-anchor="middle" style="fill:#8b2d92;stroke:none">Y<tspan font-size="6.7" dy="-4.0">3+</tspan></text>
<circle cx="116.7" cy="287.7" r="2.0" fill="#8b2d92"/>
<text x="272.5" y="278.2" font-size="11.2" font-weight="bold" text-anchor="middle" style="fill:#8b2d92;stroke:none">Y<tspan font-size="6.7" dy="-4.0">3+</tspan></text>
<circle cx="269.7" cy="287.7" r="2.0" fill="#8b2d92"/>
<text x="328.8" y="278.2" font-size="11.2" font-weight="bold" text-anchor="middle" style="fill:#e0423e;stroke:none">Ce<tspan font-size="6.7" dy="-4.0">3+</tspan></text>
<circle cx="330.8" cy="287.7" r="2.0" fill="#e0423e"/>
<text x="358" y="278.2" font-size="11.2" font-weight="bold" text-anchor="middle" style="fill:#3b9e5f;stroke:none">Nd<tspan font-size="6.7" dy="-4.0">3+</tspan></text>
<circle cx="356.9" cy="287.7" r="2.0" fill="#3b9e5f"/>
<text x="404.3" y="278.2" font-size="11.2" font-weight="bold" text-anchor="middle" style="fill:#e0423e;stroke:none">Ce<tspan font-size="6.7" dy="-4.0">3+</tspan></text>
<circle cx="400.8" cy="287.7" r="2.0" fill="#e0423e"/><circle cx="407" cy="287.7" r="2.0" fill="#e0423e"/><circle cx="411.5" cy="287.7" r="2.0" fill="#e0423e"/>
<text x="426.7" y="278.2" font-size="11.2" font-weight="normal" text-anchor="middle" style="fill:#6cbfe6;stroke:#6cbfe6;stroke-width:.35px">La<tspan font-size="6.7" dy="-4.0">3+</tspan></text>
<circle cx="416.5" cy="287.7" r="2.0" fill="#6cbfe6"/><circle cx="420.8" cy="287.7" r="2.0" fill="#6cbfe6"/><circle cx="432.8" cy="287.7" r="2.0" fill="#6cbfe6"/>
<text x="455" y="278.2" font-size="11.2" font-weight="bold" text-anchor="middle" style="fill:#3b9e5f;stroke:none">Nd<tspan font-size="6.7" dy="-4.0">3+</tspan></text>
<circle cx="454.4" cy="287.7" r="2.0" fill="#3b9e5f"/>
<text x="496" y="278.2" font-size="11.2" font-weight="bold" text-anchor="middle" style="fill:#3b9e5f;stroke:none">Nd<tspan font-size="6.7" dy="-4.0">3+</tspan></text>
<circle cx="495.8" cy="287.7" r="2.0" fill="#3b9e5f"/>
<text x="564.3" y="278.2" font-size="11.2" font-weight="bold" text-anchor="middle" style="fill:#1c2a5b;stroke:none">Dy<tspan font-size="6.7" dy="-4.0">3+</tspan></text>
<circle cx="558.6" cy="287.7" r="2.0" fill="#1c2a5b"/>
<text x="709.5" y="278.2" font-size="11.2" font-weight="bold" text-anchor="middle" style="fill:#1c2a5b;stroke:none">Dy<tspan font-size="6.7" dy="-4.0">3+</tspan></text>
<circle cx="702.8" cy="287.7" r="2.0" fill="#1c2a5b"/>
<text x="777" y="278.2" font-size="11.2" font-weight="normal" text-anchor="middle" style="fill:#6cbfe6;stroke:#6cbfe6;stroke-width:.35px">La<tspan font-size="6.7" dy="-4.0">3+</tspan></text>
<circle cx="776.5" cy="287.7" r="2.0" fill="#6cbfe6"/>
<path d="M765.2,353.6 H785" stroke="#000" stroke-width="1.3"/><text x="775.2" y="366.2" font-size="8.6" text-anchor="middle">2 s</text>
</g>
<g id="pc">
<defs>
<radialGradient id="bLa" cx=".35" cy=".3" r=".75"><stop offset="0" stop-color="#e6fbf4"/><stop offset=".45" stop-color="#86d3c3"/><stop offset="1" stop-color="#4da090"/></radialGradient>
<radialGradient id="bCe" cx=".35" cy=".3" r=".75"><stop offset="0" stop-color="#ffb0b0"/><stop offset=".45" stop-color="#d8283a"/><stop offset="1" stop-color="#8e1020"/></radialGradient>
<radialGradient id="bPr" cx=".35" cy=".3" r=".75"><stop offset="0" stop-color="#a8c4ff"/><stop offset=".45" stop-color="#2c52c0"/><stop offset="1" stop-color="#142a78"/></radialGradient>
<radialGradient id="bNd" cx=".35" cy=".3" r=".75"><stop offset="0" stop-color="#b6efc6"/><stop offset=".45" stop-color="#3a9a58"/><stop offset="1" stop-color="#1d6034"/></radialGradient>
<radialGradient id="bSm" cx=".35" cy=".3" r=".75"><stop offset="0" stop-color="#f3dcff"/><stop offset=".45" stop-color="#b585d0"/><stop offset="1" stop-color="#7a4a98"/></radialGradient>
<radialGradient id="bEu" cx=".35" cy=".3" r=".75"><stop offset="0" stop-color="#ffe39a"/><stop offset=".45" stop-color="#c8961e"/><stop offset="1" stop-color="#7e5a08"/></radialGradient>
<radialGradient id="bGd" cx=".35" cy=".3" r=".75"><stop offset="0" stop-color="#d2fff4"/><stop offset=".45" stop-color="#5fc4b5"/><stop offset="1" stop-color="#2e8577"/></radialGradient>
<radialGradient id="bDy" cx=".35" cy=".3" r=".75"><stop offset="0" stop-color="#9a96d8"/><stop offset=".45" stop-color="#2a2560"/><stop offset="1" stop-color="#0c0a2c"/></radialGradient>
<radialGradient id="bY" cx=".35" cy=".3" r=".75"><stop offset="0" stop-color="#e9a6ee"/><stop offset=".45" stop-color="#8d2b93"/><stop offset="1" stop-color="#4c0f52"/></radialGradient>
</defs>
<text x="4.6" y="392.2" font-size="20">c</text>
<g fill="none" stroke="#d0d0d0" stroke-width=".8">
<path d="M151.5,414.2 L151.3,533.9 M260.6,427.3 L253.4,562.6"/>
<path d="M60.3,568.4 L151.3,533.9 L253.4,562.6 L167.8,607 Z" stroke-dasharray="7 1.2"/>
</g>
<path d="M60.3,568.4 L54.7,430.3 L151.5,414.2 L260.6,427.3" fill="none" stroke="#111" stroke-width="1.5" stroke-linejoin="miter"/>
<path d="M54.7,430.3 h-3.2" stroke="#111" stroke-width=".9"/>
<text x="48.7" y="433.7" font-size="9.6" text-anchor="end">100</text>
<path d="M56.9,484.4 h-3.2" stroke="#111" stroke-width=".9"/>
<text x="49.4" y="487" font-size="9.6" text-anchor="end">10</text>
<path d="M59.0,535.4 h-3.2" stroke="#111" stroke-width=".9"/>
<text x="48.8" y="537.3" font-size="9.6" text-anchor="end">1</text>
<path d="M60.3,568.4 h-3.2" stroke="#111" stroke-width=".9"/>
<text x="51" y="573.8" font-size="9.6" text-anchor="end">0</text>
<path d="M56.2,468.1 h-2.2" stroke="#111" stroke-width=".7"/>
<path d="M55.8,458.6 h-2.2" stroke="#111" stroke-width=".7"/>
<path d="M55.6,451.8 h-2.2" stroke="#111" stroke-width=".7"/>
<path d="M55.4,446.6 h-2.2" stroke="#111" stroke-width=".7"/>
<path d="M55.2,442.3 h-2.2" stroke="#111" stroke-width=".7"/>
<path d="M55.0,438.7 h-2.2" stroke="#111" stroke-width=".7"/>
<path d="M54.9,435.5 h-2.2" stroke="#111" stroke-width=".7"/>
<path d="M54.8,432.8 h-2.2" stroke="#111" stroke-width=".7"/>
<path d="M58.3,520.0 h-2.2" stroke="#111" stroke-width=".7"/>
<path d="M58.0,511.1 h-2.2" stroke="#111" stroke-width=".7"/>
<path d="M57.7,504.7 h-2.2" stroke="#111" stroke-width=".7"/>
<path d="M57.5,499.8 h-2.2" stroke="#111" stroke-width=".7"/>
<path d="M57.4,495.7 h-2.2" stroke="#111" stroke-width=".7"/>
<path d="M57.2,492.3 h-2.2" stroke="#111" stroke-width=".7"/>
<path d="M57.1,489.3 h-2.2" stroke="#111" stroke-width=".7"/>
<path d="M57.0,486.7 h-2.2" stroke="#111" stroke-width=".7"/>
<path d="M60.3,567.5 h-1.6" stroke="#111" stroke-width=".5"/>
<path d="M60.2,566.7 h-1.6" stroke="#111" stroke-width=".5"/>
<path d="M60.2,565.8 h-1.6" stroke="#111" stroke-width=".5"/>
<path d="M60.2,565.0 h-1.6" stroke="#111" stroke-width=".5"/>
<path d="M60.1,564.1 h-1.6" stroke="#111" stroke-width=".5"/>
<path d="M60.1,563.2 h-1.6" stroke="#111" stroke-width=".5"/>
<path d="M60.1,562.4 h-1.6" stroke="#111" stroke-width=".5"/>
<path d="M57.6,562.6 l4.6,-2 M57.7,564.2 l4.6,-2" stroke="#111" stroke-width=".7"/>
<path d="M56.0,430.1 l0.4,-3.0" stroke="#111" stroke-width=".8"/>
<text transform="translate(59.2,426.5) rotate(-80)" font-size="9.6" text-anchor="start">0</text>
<path d="M79.5,426.2 l0.4,-1.8" stroke="#111" stroke-width=".8"/>
<path d="M102.4,422.4 l0.4,-3.0" stroke="#111" stroke-width=".8"/>
<text transform="translate(105.8,418.6) rotate(-80)" font-size="9.6" text-anchor="start">4</text>
<path d="M124.0,418.8 l0.4,-1.8" stroke="#111" stroke-width=".8"/>
<path d="M145.6,415.2 l0.4,-3.0" stroke="#111" stroke-width=".8"/>
<text transform="translate(148.0,413.0) rotate(-80)" font-size="9.6" text-anchor="start">8</text>
<path d="M165.1,415.8 l0.3,3.2" stroke="#111" stroke-width=".8"/>
<text transform="translate(166.3,411.7) rotate(-82)" font-size="9.6" text-anchor="start">0.8</text>
<path d="M179.6,417.6 l0.3,1.8" stroke="#111" stroke-width=".8"/>
<path d="M194.9,419.4 l0.3,3.2" stroke="#111" stroke-width=".8"/>
<text transform="translate(195.6,415.1) rotate(-82)" font-size="9.6" text-anchor="start">1.0</text>
<path d="M210.5,421.3 l0.3,1.8" stroke="#111" stroke-width=".8"/>
<path d="M226.7,423.2 l0.3,3.2" stroke="#111" stroke-width=".8"/>
<text transform="translate(226.6,419.6) rotate(-82)" font-size="9.6" text-anchor="start">1.2</text>
<path d="M243.6,425.3 l0.3,1.8" stroke="#111" stroke-width=".8"/>
<path d="M260.4,427.3 l0.3,3.2" stroke="#111" stroke-width=".8"/>
<text transform="translate(261.6,423.9) rotate(-82)" font-size="9.6" text-anchor="start">1.4</text>
<text transform="translate(106.3,398.2) rotate(-8.5)" font-size="13.4" text-anchor="middle">Std (pA)</text>
<text transform="translate(209.6,394.6) rotate(11)" font-size="13.4" text-anchor="middle">%<tspan font-style="italic">I</tspan><tspan font-size="8.5" dy="4.4" dx=".8" font-style="normal">b</tspan></text>
<text transform="translate(22.2,506.3) rotate(88)" font-size="14" text-anchor="middle">τ<tspan font-size="6.6" dy="3.4">L,1</tspan><tspan dy="-3.4"> (ms)</tspan></text>
<rect x="66.8" y="434.6" width="113.4" height="55.8" fill="#fff" stroke="#111" stroke-width="1.3"/>
<circle cx="77" cy="444.5" r="3.7" fill="#7cc3e8"/>
<text x="86" y="448.0" font-size="10.2">La<tspan font-size="5.9" dy="-3.6" style="stroke-width:.1px">3+</tspan></text>
<circle cx="112.6" cy="444.5" r="3.7" fill="#e0434a"/>
<text x="121.4" y="448.0" font-size="10.2">Ce<tspan font-size="5.9" dy="-3.6" style="stroke-width:.1px">3+</tspan></text>
<circle cx="148.8" cy="444.5" r="3.7" fill="#2f6fc0"/>
<text x="158.2" y="448.0" font-size="10.2">Pr<tspan font-size="5.9" dy="-3.6" style="stroke-width:.1px">3+</tspan></text>
<circle cx="77" cy="462.5" r="3.7" fill="#3f9f63"/>
<text x="86" y="466.0" font-size="10.2">Nd<tspan font-size="5.9" dy="-3.6" style="stroke-width:.1px">3+</tspan></text>
<circle cx="112.6" cy="462.5" r="3.7" fill="#a47cc4"/>
<text x="121.4" y="466.0" font-size="10.2">Sm<tspan font-size="5.9" dy="-3.6" style="stroke-width:.1px">3+</tspan></text>
<circle cx="148.8" cy="462.5" r="3.7" fill="#c4941f"/>
<text x="158.2" y="466.0" font-size="10.2">Eu<tspan font-size="5.9" dy="-3.6" style="stroke-width:.1px">3+</tspan></text>
<circle cx="77" cy="480.5" r="3.7" fill="#3db3b0"/>
<text x="86" y="484.0" font-size="10.2">Gd<tspan font-size="5.9" dy="-3.6" style="stroke-width:.1px">3+</tspan></text>
<circle cx="112.6" cy="480.5" r="3.7" fill="#1f2a5c"/>
<text x="121.4" y="484.0" font-size="10.2">Dy<tspan font-size="5.9" dy="-3.6" style="stroke-width:.1px">3+</tspan></text>
<circle cx="148.8" cy="480.5" r="3.7" fill="#802a89"/>
<text x="160.79999999999998" y="484.0" font-size="10.2">Y<tspan font-size="5.9" dy="-3.6" style="stroke-width:.1px">3+</tspan></text>
<circle cx="87.0" cy="570.1" r="2.2" fill="url(#bLa)"/><circle cx="88.3" cy="570.6" r="2.2" fill="url(#bLa)"/><circle cx="88.9" cy="571.4" r="2.2" fill="url(#bLa)"/><circle cx="91.1" cy="572.3" r="2.2" fill="url(#bLa)"/><circle cx="91.9" cy="572.3" r="2.2" fill="url(#bLa)"/><circle cx="92.6" cy="572.9" r="2.2" fill="url(#bLa)"/><circle cx="93.1" cy="573.3" r="2.2" fill="url(#bLa)"/>
<circle cx="100.1" cy="574.5" r="2.3" fill="url(#bCe)"/><circle cx="101.8" cy="574.8" r="2.3" fill="url(#bCe)"/><circle cx="102.8" cy="574.7" r="2.3" fill="url(#bCe)"/><circle cx="103.3" cy="575.4" r="2.3" fill="url(#bCe)"/><circle cx="104.8" cy="575.9" r="2.3" fill="url(#bCe)"/><circle cx="106.1" cy="575.7" r="2.3" fill="url(#bCe)"/><circle cx="106.8" cy="576.5" r="2.3" fill="url(#bCe)"/><circle cx="107.7" cy="576.5" r="2.3" fill="url(#bCe)"/><circle cx="108.7" cy="576.8" r="2.3" fill="url(#bCe)"/><circle cx="110.3" cy="577.7" r="2.3" fill="url(#bCe)"/><circle cx="110.9" cy="577.7" r="2.3" fill="url(#bCe)"/>
<circle cx="113.9" cy="576.4" r="1.6" fill="url(#bCe)"/>
<circle cx="120.2" cy="577.2" r="2.0" fill="url(#bPr)"/><circle cx="121.4" cy="577.9" r="2.0" fill="url(#bPr)"/><circle cx="122.3" cy="578.3" r="2.0" fill="url(#bPr)"/><circle cx="123.5" cy="578.8" r="2.0" fill="url(#bPr)"/><circle cx="124.4" cy="579.3" r="2.0" fill="url(#bPr)"/>
<circle cx="131.6" cy="574.3" r="2.3" fill="url(#bNd)"/><circle cx="131.9" cy="575.1" r="2.3" fill="url(#bNd)"/><circle cx="133.4" cy="575.5" r="2.3" fill="url(#bNd)"/><circle cx="134.8" cy="575.9" r="2.3" fill="url(#bNd)"/><circle cx="136.7" cy="576.2" r="2.3" fill="url(#bNd)"/><circle cx="137.2" cy="576.7" r="2.3" fill="url(#bNd)"/><circle cx="138.7" cy="577.2" r="2.3" fill="url(#bNd)"/><circle cx="139.6" cy="578.0" r="2.3" fill="url(#bNd)"/><circle cx="140.7" cy="578.3" r="2.3" fill="url(#bNd)"/><circle cx="142.6" cy="578.4" r="2.3" fill="url(#bNd)"/><circle cx="142.9" cy="579.0" r="2.3" fill="url(#bNd)"/><circle cx="144.9" cy="579.7" r="2.3" fill="url(#bNd)"/>
<path d="M88.2,570.4 L92.8,572.8 M101.8,574.2 L109.8,577 M120.8,577 L124,578.5 M132.6,574.7 L143.4,578.8" stroke="#fff" stroke-width="1" stroke-linecap="round" opacity=".5" stroke-dasharray="2.2 .8"/>
<circle cx="169.2" cy="551.0" r="2.0" fill="url(#bSm)"/>
<circle cx="172.5" cy="553.0" r="2.0" fill="url(#bSm)"/>
<circle cx="174.2" cy="555.0" r="2.0" fill="url(#bSm)"/>
<circle cx="175.8" cy="550.2" r="2.0" fill="url(#bSm)"/>
<circle cx="178.6" cy="552.2" r="2.0" fill="url(#bSm)"/>
<circle cx="173.0" cy="550.0" r="2.0" fill="url(#bSm)"/>
<circle cx="184.8" cy="539.2" r="2.1" fill="url(#bEu)"/>
<circle cx="187.2" cy="540.2" r="2.1" fill="url(#bEu)"/>
<circle cx="190.0" cy="541.2" r="2.1" fill="url(#bEu)"/>
<circle cx="185.6" cy="540.8" r="2.1" fill="url(#bEu)"/>
<circle cx="193.2" cy="523.6" r="2.0" fill="url(#bGd)"/>
<circle cx="195.6" cy="525.4" r="2.0" fill="url(#bGd)"/>
<circle cx="197.6" cy="524.8" r="2.0" fill="url(#bGd)"/>
<circle cx="200.6" cy="526.0" r="2.0" fill="url(#bGd)"/>
<circle cx="203.2" cy="527.4" r="2.0" fill="url(#bGd)"/>
<circle cx="205.0" cy="526.2" r="2.0" fill="url(#bGd)"/>
<circle cx="207.6" cy="527.0" r="2.0" fill="url(#bGd)"/>
<circle cx="210.4" cy="528.0" r="2.0" fill="url(#bGd)"/>
<circle cx="204.0" cy="529.2" r="2.0" fill="url(#bGd)"/>
<circle cx="208.4" cy="529.4" r="2.0" fill="url(#bGd)"/>
<circle cx="199.6" cy="532.4" r="2.0" fill="url(#bGd)"/>
<circle cx="194.0" cy="526.4" r="2.0" fill="url(#bGd)"/>
<circle cx="202.0" cy="528.0" r="2.0" fill="url(#bGd)"/>
<circle cx="219.6" cy="503.6" r="2.1" fill="url(#bDy)"/>
<circle cx="222.6" cy="507.2" r="2.1" fill="url(#bDy)"/>
<circle cx="227.4" cy="508.0" r="2.1" fill="url(#bDy)"/>
<circle cx="221.6" cy="508.6" r="2.1" fill="url(#bDy)"/>
<circle cx="222.8" cy="480.8" r="2.0" fill="url(#bY)"/>
<circle cx="225.0" cy="482.8" r="2.0" fill="url(#bY)"/>
<circle cx="227.4" cy="485.0" r="2.0" fill="url(#bY)"/>
<circle cx="229.2" cy="486.6" r="2.0" fill="url(#bY)"/>
<circle cx="231.2" cy="484.6" r="2.0" fill="url(#bY)"/>
<circle cx="233.0" cy="482.6" r="2.0" fill="url(#bY)"/>
<circle cx="235.8" cy="481.2" r="2.0" fill="url(#bY)"/>
<circle cx="229.8" cy="482.4" r="2.0" fill="url(#bY)"/>
<circle cx="226.0" cy="481.8" r="2.0" fill="url(#bY)"/>
</g>
<g id="pd">
<text x="285.6" y="392.3" font-size="20">d</text>
<rect x="351.7" y="423.5" width="12.4" height="155.8" fill="#1c8f8c"/>
<rect x="364.1" y="475.9" width="12.4" height="103.4" fill="#e2645f"/>
<rect x="401.5" y="491.8" width="12.4" height="87.5" fill="#1c8f8c"/>
<rect x="413.9" y="502.3" width="12.4" height="77.0" fill="#e2645f"/>
<rect x="451.4" y="561.4" width="12.4" height="17.9" fill="#1c8f8c"/>
<rect x="463.8" y="528.4" width="12.4" height="50.9" fill="#e2645f"/>
<rect x="501.3" y="512.1" width="12.4" height="67.2" fill="#1c8f8c"/>
<rect x="513.7" y="546.4" width="12.4" height="32.9" fill="#e2645f"/>
<rect x="550.8" y="573.9" width="12.4" height="5.4" fill="#1c8f8c"/>
<rect x="563.2" y="565.1" width="12.4" height="14.2" fill="#e2645f"/>
<rect x="600.8" y="576.0" width="12.4" height="3.3" fill="#1c8f8c"/>
<rect x="613.2" y="566.7" width="12.4" height="12.6" fill="#e2645f"/>
<rect x="650.9" y="578.9" width="12.4" height="0.4" fill="#1c8f8c"/>
<rect x="663.3" y="569.1" width="12.4" height="10.2" fill="#e2645f"/>
<rect x="700.7" y="578.4" width="12.4" height="0.9" fill="#1c8f8c"/>
<rect x="713.1" y="570.1" width="12.4" height="9.2" fill="#e2645f"/>
<rect x="750.7" y="578.1" width="12.4" height="1.2" fill="#1c8f8c"/>
<rect x="763.1" y="572.7" width="12.4" height="6.6" fill="#e2645f"/>
<path d="M370.3,452.5 V476 M420,497 V503 M470,511.5 V529" stroke="#e2645f" stroke-width="1"/>
<path d="M345.8,394.7 H782.6 V579.3 H345.8 Z" fill="none" stroke="#111" stroke-width="1.3"/>
<path d="M345.8,579.3 h-12.6" stroke="#111" stroke-width="1.1"/>
<text x="319.4" y="584.8" font-size="10.4" text-anchor="middle">0</text>
<path d="M345.8,542.4 h-12.6" stroke="#111" stroke-width="1.1"/>
<text x="319.4" y="547.9" font-size="10.4" text-anchor="middle">2</text>
<path d="M345.8,505.5 h-12.6" stroke="#111" stroke-width="1.1"/>
<text x="319.4" y="511.0" font-size="10.4" text-anchor="middle">4</text>
<path d="M345.8,468.5 h-12.6" stroke="#111" stroke-width="1.1"/>
<text x="319.4" y="474.0" font-size="10.4" text-anchor="middle">6</text>
<path d="M345.8,431.6 h-12.6" stroke="#111" stroke-width="1.1"/>
<text x="319.4" y="437.1" font-size="10.4" text-anchor="middle">8</text>
<path d="M345.8,394.7 h-12.6" stroke="#111" stroke-width="1.1"/>
<text x="319.4" y="400.2" font-size="10.4" text-anchor="middle">10</text>
<path d="M364.1,579.3 v7.8" stroke="#111" stroke-width="1.1"/>
<text x="364.1" y="602.8" font-size="13.6" text-anchor="middle">Ce</text>
<path d="M413.9,579.3 v7.8" stroke="#111" stroke-width="1.1"/>
<text x="413.9" y="602.8" font-size="13.6" text-anchor="middle">La</text>
<path d="M463.8,579.3 v7.8" stroke="#111" stroke-width="1.1"/>
<text x="463.8" y="602.8" font-size="13.6" text-anchor="middle">Pr</text>
<path d="M513.7,579.3 v7.8" stroke="#111" stroke-width="1.1"/>
<text x="513.7" y="602.8" font-size="13.6" text-anchor="middle">Nd</text>
<path d="M563.2,579.3 v7.8" stroke="#111" stroke-width="1.1"/>
<text x="563.2" y="602.8" font-size="13.6" text-anchor="middle">Sm</text>
<path d="M613.2,579.3 v7.8" stroke="#111" stroke-width="1.1"/>
<text x="613.2" y="602.8" font-size="13.6" text-anchor="middle">Gd</text>
<path d="M663.3,579.3 v7.8" stroke="#111" stroke-width="1.1"/>
<text x="663.3" y="602.8" font-size="13.6" text-anchor="middle">Dy</text>
<path d="M713.1,579.3 v7.8" stroke="#111" stroke-width="1.1"/>
<text x="713.1" y="602.8" font-size="13.6" text-anchor="middle">Eu</text>
<path d="M763.1,579.3 v7.8" stroke="#111" stroke-width="1.1"/>
<text x="763.1" y="602.8" font-size="13.6" text-anchor="middle">Y</text>
<text transform="translate(303.4,491.3) rotate(-90)" font-size="13.6" text-anchor="middle">Concentration (mg/g)</text>
<rect x="470" y="408.4" width="37.4" height="6.9" fill="#1c8f8c"/><text x="512.6" y="415.3" font-size="10.6">ICP-MS</text>
<rect x="575.2" y="408.4" width="37.6" height="6.9" fill="#e2645f"/><text x="618.2" y="415.3" font-size="10.6">This work</text>
<circle cx="354.8" cy="423.5" r="2.6" fill="#fff" stroke="#111" stroke-width="1.15"/><circle cx="358.1" cy="423.5" r="2.6" fill="#fff" stroke="#111" stroke-width="1.15"/><circle cx="361.4" cy="423.5" r="2.6" fill="#fff" stroke="#111" stroke-width="1.15"/><circle cx="370.3" cy="450" r="2.6" fill="#fff" stroke="#111" stroke-width="1.15"/><circle cx="370.3" cy="487.2" r="2.6" fill="#fff" stroke="#111" stroke-width="1.15"/><circle cx="370.3" cy="490.6" r="2.6" fill="#fff" stroke="#111" stroke-width="1.15"/><circle cx="405" cy="491.8" r="2.6" fill="#fff" stroke="#111" stroke-width="1.15"/><circle cx="408.3" cy="491.8" r="2.6" fill="#fff" stroke="#111" stroke-width="1.15"/><circle cx="411.6" cy="491.8" r="2.6" fill="#fff" stroke="#111" stroke-width="1.15"/><circle cx="420" cy="494.5" r="2.6" fill="#fff" stroke="#111" stroke-width="1.15"/><circle cx="420" cy="500.3" r="2.6" fill="#fff" stroke="#111" stroke-width="1.15"/><circle cx="420" cy="512.8" r="2.6" fill="#fff" stroke="#111" stroke-width="1.15"/><circle cx="453.9" cy="561.6" r="2.6" fill="#fff" stroke="#111" stroke-width="1.15"/><circle cx="457.2" cy="561.6" r="2.6" fill="#fff" stroke="#111" stroke-width="1.15"/><circle cx="460.5" cy="561.6" r="2.6" fill="#fff" stroke="#111" stroke-width="1.15"/><circle cx="470" cy="509.6" r="2.6" fill="#fff" stroke="#111" stroke-width="1.15"/><circle cx="470" cy="535" r="2.6" fill="#fff" stroke="#111" stroke-width="1.15"/><circle cx="470" cy="540.6" r="2.6" fill="#fff" stroke="#111" stroke-width="1.15"/><circle cx="503.7" cy="512.3" r="2.6" fill="#fff" stroke="#111" stroke-width="1.15"/><circle cx="507" cy="512.3" r="2.6" fill="#fff" stroke="#111" stroke-width="1.15"/><circle cx="510.3" cy="512.3" r="2.6" fill="#fff" stroke="#111" stroke-width="1.15"/><circle cx="516.6" cy="548.4" r="2.6" fill="#fff" stroke="#111" stroke-width="1.15"/><circle cx="520.2" cy="546" r="2.6" fill="#fff" stroke="#111" stroke-width="1.15"/><circle cx="523.1" cy="547.2" r="2.6" fill="#fff" stroke="#111" stroke-width="1.15"/><circle cx="553.4" cy="572.6" r="2.6" fill="#fff" stroke="#111" stroke-width="1.15"/><circle cx="557" cy="572.6" r="2.6" fill="#fff" stroke="#111" stroke-width="1.15"/><circle cx="560.6" cy="572.6" r="2.6" fill="#fff" stroke="#111" stroke-width="1.15"/><circle cx="566.4" cy="565" r="2.6" fill="#fff" stroke="#111" stroke-width="1.15"/><circle cx="570.4" cy="561.3" r="2.6" fill="#fff" stroke="#111" stroke-width="1.15"/><circle cx="573.6" cy="563.3" r="2.6" fill="#fff" stroke="#111" stroke-width="1.15"/><circle cx="603.6" cy="575.4" r="2.6" fill="#fff" stroke="#111" stroke-width="1.15"/><circle cx="607.2" cy="575.4" r="2.6" fill="#fff" stroke="#111" stroke-width="1.15"/><circle cx="610.8" cy="575.4" r="2.6" fill="#fff" stroke="#111" stroke-width="1.15"/><circle cx="617.3" cy="563" r="2.6" fill="#fff" stroke="#111" stroke-width="1.15"/><circle cx="623.3" cy="565" r="2.6" fill="#fff" stroke="#111" stroke-width="1.15"/><circle cx="620.1" cy="568.2" r="2.6" fill="#fff" stroke="#111" stroke-width="1.15"/><circle cx="653.7" cy="579.4" r="2.6" fill="#fff" stroke="#111" stroke-width="1.15"/><circle cx="656.9" cy="579.4" r="2.6" fill="#fff" stroke="#111" stroke-width="1.15"/><circle cx="660.1" cy="579.4" r="2.6" fill="#fff" stroke="#111" stroke-width="1.15"/><circle cx="666.6" cy="568.1" r="2.6" fill="#fff" stroke="#111" stroke-width="1.15"/><circle cx="669.8" cy="566.5" r="2.6" fill="#fff" stroke="#111" stroke-width="1.15"/><circle cx="673.1" cy="568.1" r="2.6" fill="#fff" stroke="#111" stroke-width="1.15"/><circle cx="703.4" cy="579" r="2.6" fill="#fff" stroke="#111" stroke-width="1.15"/><circle cx="706.7" cy="579" r="2.6" fill="#fff" stroke="#111" stroke-width="1.15"/><circle cx="710" cy="579" r="2.6" fill="#fff" stroke="#111" stroke-width="1.15"/><circle cx="716.3" cy="569" r="2.6" fill="#fff" stroke="#111" stroke-width="1.15"/><circle cx="719.6" cy="568.2" r="2.6" fill="#fff" stroke="#111" stroke-width="1.15"/><circle cx="722.9" cy="568.2" r="2.6" fill="#fff" stroke="#111" stroke-width="1.15"/><circle cx="753.5" cy="578.7" r="2.6" fill="#fff" stroke="#111" stroke-width="1.15"/><circle cx="756.8" cy="578.7" r="2.6" fill="#fff" stroke="#111" stroke-width="1.15"/><circle cx="760.1" cy="578.7" r="2.6" fill="#fff" stroke="#111" stroke-width="1.15"/><circle cx="765.8" cy="573.4" r="2.6" fill="#fff" stroke="#111" stroke-width="1.15"/><circle cx="769.4" cy="570.7" r="2.6" fill="#fff" stroke="#111" stroke-width="1.15"/><circle cx="772.2" cy="571.1" r="2.6" fill="#fff" stroke="#111" stroke-width="1.15"/>
<rect x="644.8" y="559.3" width="133.8" height="48.4" fill="none" stroke="#2977bf" stroke-width="1.5"/>
<rect x="586.2" y="421.8" width="177.2" height="118.2" fill="#fff" stroke="#2977bf" stroke-width="1.7"/>
<rect x="634.2" y="520.2" width="11.3" height="2.5" fill="#1c8f8c"/>
<rect x="645.5" y="441.7" width="11.3" height="81.0" fill="#e2645f"/>
<rect x="679.4" y="516.3" width="11.3" height="6.4" fill="#1c8f8c"/>
<rect x="690.7" y="443.7" width="11.3" height="79.1" fill="#e2645f"/>
<rect x="724.7" y="514.5" width="11.3" height="8.2" fill="#1c8f8c"/>
<rect x="736.0" y="467.9" width="11.3" height="54.8" fill="#e2645f"/>
<path d="M651,436 V442 M741.7,460 V468.5" stroke="#e2645f" stroke-width=".9"/>
<path d="M628.9,428.8 H753.3 V522.7 H628.9 Z" fill="none" stroke="#111" stroke-width="1.15"/>
<path d="M628.9,522.7 h-6" stroke="#111" stroke-width=".8"/>
<text x="621.2" y="525.2" font-size="7.2" text-anchor="end">0.0</text>
<path d="M628.9,497.2 h-6" stroke="#111" stroke-width=".8"/>
<text x="621.2" y="499.7" font-size="7.2" text-anchor="end">0.2</text>
<path d="M628.9,471.7 h-6" stroke="#111" stroke-width=".8"/>
<text x="621.2" y="474.2" font-size="7.2" text-anchor="end">0.4</text>
<path d="M628.9,446.2 h-6" stroke="#111" stroke-width=".8"/>
<text x="621.2" y="448.7" font-size="7.2" text-anchor="end">0.6</text>
<path d="M645.5,522.7 v2.6" stroke="#111" stroke-width=".8"/>
<text x="645.5" y="535.4" font-size="7.3" text-anchor="middle">Dy</text>
<path d="M690.7,522.7 v2.6" stroke="#111" stroke-width=".8"/>
<text x="690.7" y="535.4" font-size="7.3" text-anchor="middle">Eu</text>
<path d="M736,522.7 v2.6" stroke="#111" stroke-width=".8"/>
<text x="736" y="535.4" font-size="7.3" text-anchor="middle">Y</text>
<text transform="translate(604.2,484) rotate(-90)" font-size="6.85" style="fill:#333" text-anchor="middle">Concentration (mg/g)</text>
<circle cx="636" cy="519.3" r="2.6" fill="#fff" stroke="#111" stroke-width="1.15"/><circle cx="639.6" cy="519.3" r="2.6" fill="#fff" stroke="#111" stroke-width="1.15"/><circle cx="643.3" cy="519.3" r="2.6" fill="#fff" stroke="#111" stroke-width="1.15"/><circle cx="651" cy="433.6" r="2.6" fill="#fff" stroke="#111" stroke-width="1.15"/><circle cx="647.6" cy="446" r="2.6" fill="#fff" stroke="#111" stroke-width="1.15"/><circle cx="655" cy="445.2" r="2.6" fill="#fff" stroke="#111" stroke-width="1.15"/><circle cx="681.2" cy="515.7" r="2.6" fill="#fff" stroke="#111" stroke-width="1.15"/><circle cx="685" cy="515.7" r="2.6" fill="#fff" stroke="#111" stroke-width="1.15"/><circle cx="688.8" cy="515.7" r="2.6" fill="#fff" stroke="#111" stroke-width="1.15"/><circle cx="692.6" cy="445.2" r="2.6" fill="#fff" stroke="#111" stroke-width="1.15"/><circle cx="700.2" cy="445.2" r="2.6" fill="#fff" stroke="#111" stroke-width="1.15"/><circle cx="696.4" cy="452.6" r="2.6" fill="#fff" stroke="#111" stroke-width="1.15"/><circle cx="726.9" cy="514" r="2.6" fill="#fff" stroke="#111" stroke-width="1.15"/><circle cx="730.7" cy="514" r="2.6" fill="#fff" stroke="#111" stroke-width="1.15"/><circle cx="734.5" cy="514" r="2.6" fill="#fff" stroke="#111" stroke-width="1.15"/><circle cx="741.7" cy="458.1" r="2.6" fill="#fff" stroke="#111" stroke-width="1.15"/><circle cx="741.7" cy="465.7" r="2.6" fill="#fff" stroke="#111" stroke-width="1.15"/><circle cx="741.7" cy="479.3" r="2.6" fill="#fff" stroke="#111" stroke-width="1.15"/>
</g>
</g>
</svg>
</body></html>
